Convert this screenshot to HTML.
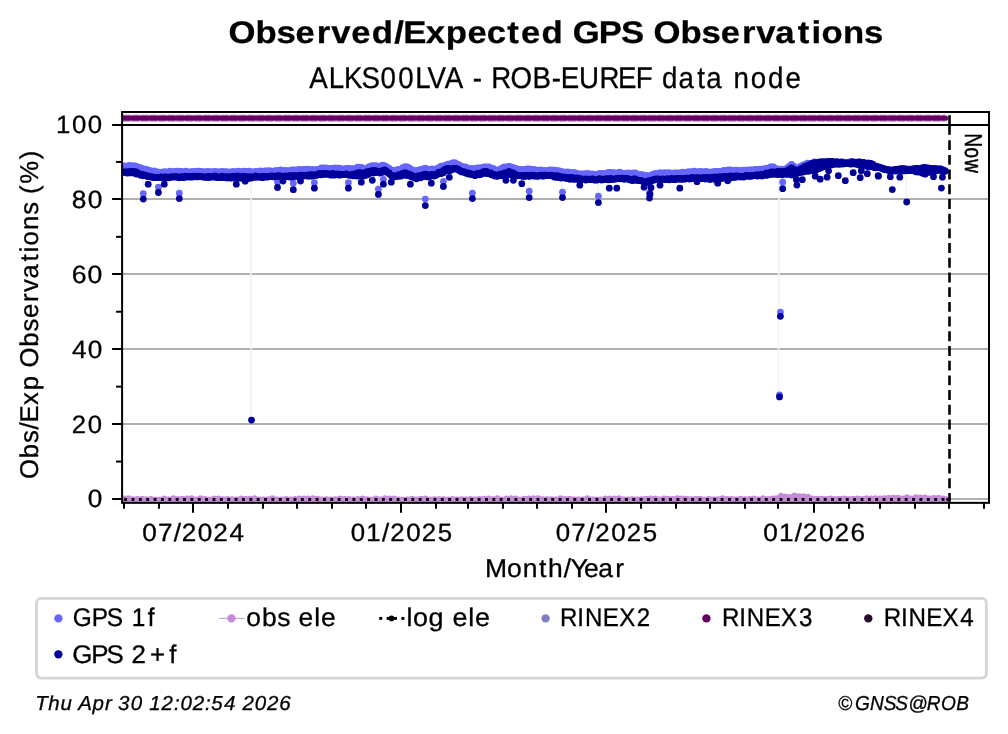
<!DOCTYPE html>
<html><head><meta charset="utf-8"><title>Observed/Expected GPS Observations</title>
<style>
html,body{margin:0;padding:0;background:#fff;width:1008px;height:734px;overflow:hidden}
svg{display:block;will-change:transform}
text{font-family:"Liberation Sans",sans-serif;font-kerning:none;text-rendering:geometricPrecision;stroke:#000;stroke-width:0.3px}
</style></head><body>
<svg width="1008" height="734" viewBox="0 0 1008 734">
<rect width="1008" height="734" fill="#fff"/>
<line x1="122.1" x2="989.0" y1="499.00" y2="499.00" stroke="#b0b0b0" stroke-width="1.8"/>
<line x1="122.1" x2="989.0" y1="424.00" y2="424.00" stroke="#b0b0b0" stroke-width="1.8"/>
<line x1="122.1" x2="989.0" y1="349.00" y2="349.00" stroke="#b0b0b0" stroke-width="1.8"/>
<line x1="122.1" x2="989.0" y1="274.00" y2="274.00" stroke="#b0b0b0" stroke-width="1.8"/>
<line x1="122.1" x2="989.0" y1="199.00" y2="199.00" stroke="#b0b0b0" stroke-width="1.8"/>
<line x1="122.1" x2="989.0" y1="125.00" y2="125.00" stroke="#b0b0b0" stroke-width="1.8"/>
<defs><clipPath id="ax"><rect x="122.10" y="112.00" width="866.90" height="390.85"/></clipPath></defs>
<g clip-path="url(#ax)">
<line x1="251.0" x2="251.0" y1="180" y2="420" stroke="#f1f1fc" stroke-width="1.6"/>
<line x1="778.8" x2="778.8" y1="178" y2="313" stroke="#f1f1fc" stroke-width="1.6"/>
<line x1="778.5" x2="778.5" y1="313" y2="397" stroke="#f1f1fc" stroke-width="1.6"/>
<line x1="143.0" x2="143.0" y1="178" y2="196" stroke="#f1f1fc" stroke-width="1.6"/>
<line x1="179.0" x2="179.0" y1="178" y2="196" stroke="#f1f1fc" stroke-width="1.6"/>
<line x1="378.0" x2="378.0" y1="176" y2="192" stroke="#f1f1fc" stroke-width="1.6"/>
<line x1="425.0" x2="425.0" y1="178" y2="202" stroke="#f1f1fc" stroke-width="1.6"/>
<line x1="472.0" x2="472.0" y1="178" y2="196" stroke="#f1f1fc" stroke-width="1.6"/>
<line x1="529.0" x2="529.0" y1="178" y2="194" stroke="#f1f1fc" stroke-width="1.6"/>
<line x1="562.0" x2="562.0" y1="180" y2="195" stroke="#f1f1fc" stroke-width="1.6"/>
<line x1="598.0" x2="598.0" y1="182" y2="199" stroke="#f1f1fc" stroke-width="1.6"/>
<line x1="892" x2="892" y1="175" y2="189" stroke="#f1f1fc" stroke-width="1.6"/>
<line x1="906.5" x2="906.5" y1="175" y2="202" stroke="#f1f1fc" stroke-width="1.6"/>
<polygon points="122,164.30 133,163.30 145,167.30 157,169.70 175,169.30 195,169.30 215,169.30 230,169.30 250,169.30 270,168.30 290,167.80 310,167.30 315,167.80 325,165.30 335,165.80 345,166.30 355,166.80 358,164.30 365,167.30 371,162.80 380,163.80 385,162.80 393,168.30 400,167.30 406,164.30 415,169.30 425,166.30 435,167.30 445,162.30 455,160.80 465,165.30 475,166.80 485,163.80 497,167.80 509,163.30 520,167.30 535,167.30 550,167.80 565,169.30 580,171.20 595,171.70 605,170.70 620,170.20 635,171.20 648,173.20 654,171.70 660,170.70 675,170.70 690,169.30 700,169.70 715,169.30 730,167.80 745,167.80 760,166.80 773,164.30 780,167.20 786,167.20 792,162.20 798,166.90 803,162.20 813,160.10 830,159.20 840,160.20 855,159.70 870,161.20 880,165.20 890,168.20 900,166.70 910,167.20 925,165.70 940,166.70 946,168.70 946,171.25 940,169.75 925,170.75 910,170.00 900,169.75 890,170.50 880,167.75 870,165.40 855,162.80 840,163.05 830,163.30 813,166.80 803,169.70 798,171.90 792,171.35 786,173.00 780,173.00 773,172.80 760,175.30 745,176.30 730,176.80 715,178.50 700,178.25 690,178.25 675,179.00 660,179.25 654,179.65 648,182.00 635,179.75 620,178.50 605,179.25 595,179.50 580,179.25 565,177.75 550,175.55 535,175.55 520,176.05 509,172.85 497,176.15 485,171.85 475,175.30 465,172.80 455,168.35 445,170.35 435,175.30 425,175.55 415,177.75 406,173.55 400,175.80 393,176.30 385,170.85 380,172.10 371,171.60 365,174.30 358,173.80 355,175.30 345,174.55 335,174.30 325,174.05 315,175.05 310,175.30 290,176.30 270,176.55 250,177.30 230,177.05 215,176.80 195,176.90 175,177.05 157,177.75 145,175.55 133,172.35 122,172.55" fill="#6666ff"/>
<g fill="#6666ff"><circle cx="122.5" cy="166.4" r="3.4"/><circle cx="124.8" cy="165.9" r="3.4"/><circle cx="127.0" cy="166.4" r="3.4"/><circle cx="129.3" cy="165.4" r="3.4"/><circle cx="131.5" cy="165.8" r="3.4"/><circle cx="133.8" cy="165.7" r="3.4"/><circle cx="136.1" cy="166.1" r="3.4"/><circle cx="138.3" cy="167.4" r="3.4"/><circle cx="140.6" cy="167.6" r="3.4"/><circle cx="142.8" cy="168.8" r="3.4"/><circle cx="145.1" cy="169.1" r="3.4"/><circle cx="147.4" cy="169.6" r="3.4"/><circle cx="149.6" cy="170.5" r="3.4"/><circle cx="151.9" cy="171.5" r="3.4"/><circle cx="154.1" cy="171.0" r="3.4"/><circle cx="156.4" cy="171.6" r="3.4"/><circle cx="158.7" cy="172.2" r="3.4"/><circle cx="160.9" cy="172.5" r="3.4"/><circle cx="163.2" cy="172.0" r="3.4"/><circle cx="165.4" cy="171.7" r="3.4"/><circle cx="167.7" cy="172.4" r="3.4"/><circle cx="170.0" cy="171.2" r="3.4"/><circle cx="172.2" cy="172.2" r="3.4"/><circle cx="174.5" cy="171.4" r="3.4"/><circle cx="176.7" cy="171.2" r="3.4"/><circle cx="179.0" cy="171.2" r="3.4"/><circle cx="181.3" cy="171.4" r="3.4"/><circle cx="183.5" cy="172.1" r="3.4"/><circle cx="185.8" cy="171.2" r="3.4"/><circle cx="188.0" cy="171.8" r="3.4"/><circle cx="190.3" cy="171.8" r="3.4"/><circle cx="192.6" cy="171.5" r="3.4"/><circle cx="194.8" cy="171.7" r="3.4"/><circle cx="197.1" cy="171.1" r="3.4"/><circle cx="199.3" cy="171.1" r="3.4"/><circle cx="201.6" cy="171.3" r="3.4"/><circle cx="203.9" cy="171.9" r="3.4"/><circle cx="206.1" cy="171.6" r="3.4"/><circle cx="208.4" cy="171.4" r="3.4"/><circle cx="210.6" cy="171.8" r="3.4"/><circle cx="212.9" cy="171.6" r="3.4"/><circle cx="215.2" cy="171.4" r="3.4"/><circle cx="217.4" cy="172.0" r="3.4"/><circle cx="219.7" cy="171.9" r="3.4"/><circle cx="221.9" cy="171.3" r="3.4"/><circle cx="224.2" cy="171.7" r="3.4"/><circle cx="226.5" cy="171.7" r="3.4"/><circle cx="228.7" cy="172.1" r="3.4"/><circle cx="231.0" cy="171.9" r="3.4"/><circle cx="233.2" cy="171.4" r="3.4"/><circle cx="235.5" cy="172.3" r="3.4"/><circle cx="237.8" cy="171.2" r="3.4"/><circle cx="240.0" cy="171.5" r="3.4"/><circle cx="242.3" cy="172.0" r="3.4"/><circle cx="244.5" cy="171.2" r="3.4"/><circle cx="246.8" cy="171.6" r="3.4"/><circle cx="249.1" cy="171.1" r="3.4"/><circle cx="251.3" cy="171.8" r="3.4"/><circle cx="253.6" cy="171.8" r="3.4"/><circle cx="255.8" cy="171.5" r="3.4"/><circle cx="258.1" cy="171.7" r="3.4"/><circle cx="260.4" cy="170.9" r="3.4"/><circle cx="262.6" cy="171.3" r="3.4"/><circle cx="264.9" cy="171.0" r="3.4"/><circle cx="267.1" cy="170.9" r="3.4"/><circle cx="269.4" cy="170.6" r="3.4"/><circle cx="271.7" cy="171.1" r="3.4"/><circle cx="273.9" cy="171.1" r="3.4"/><circle cx="276.2" cy="170.5" r="3.4"/><circle cx="278.4" cy="170.7" r="3.4"/><circle cx="280.7" cy="169.8" r="3.4"/><circle cx="283.0" cy="170.6" r="3.4"/><circle cx="285.2" cy="170.5" r="3.4"/><circle cx="287.5" cy="170.9" r="3.4"/><circle cx="289.7" cy="170.6" r="3.4"/><circle cx="292.0" cy="169.8" r="3.4"/><circle cx="294.3" cy="169.9" r="3.4"/><circle cx="296.5" cy="170.2" r="3.4"/><circle cx="298.8" cy="169.3" r="3.4"/><circle cx="301.0" cy="169.8" r="3.4"/><circle cx="303.3" cy="169.4" r="3.4"/><circle cx="305.6" cy="169.3" r="3.4"/><circle cx="307.8" cy="169.1" r="3.4"/><circle cx="310.1" cy="170.0" r="3.4"/><circle cx="312.3" cy="169.4" r="3.4"/><circle cx="314.6" cy="169.8" r="3.4"/><circle cx="316.9" cy="169.5" r="3.4"/><circle cx="319.1" cy="169.6" r="3.4"/><circle cx="321.4" cy="168.0" r="3.4"/><circle cx="323.6" cy="167.9" r="3.4"/><circle cx="325.9" cy="167.8" r="3.4"/><circle cx="328.2" cy="168.3" r="3.4"/><circle cx="330.4" cy="168.3" r="3.4"/><circle cx="332.7" cy="168.5" r="3.4"/><circle cx="334.9" cy="167.9" r="3.4"/><circle cx="337.2" cy="168.1" r="3.4"/><circle cx="339.5" cy="168.2" r="3.4"/><circle cx="341.7" cy="169.0" r="3.4"/><circle cx="344.0" cy="169.2" r="3.4"/><circle cx="346.2" cy="168.3" r="3.4"/><circle cx="348.5" cy="168.4" r="3.4"/><circle cx="350.8" cy="168.6" r="3.4"/><circle cx="353.0" cy="168.7" r="3.4"/><circle cx="355.3" cy="168.9" r="3.4"/><circle cx="357.5" cy="167.1" r="3.4"/><circle cx="359.8" cy="167.1" r="3.4"/><circle cx="362.1" cy="167.7" r="3.4"/><circle cx="364.3" cy="169.3" r="3.4"/><circle cx="366.6" cy="168.3" r="3.4"/><circle cx="368.8" cy="166.9" r="3.4"/><circle cx="371.1" cy="165.8" r="3.4"/><circle cx="373.4" cy="165.7" r="3.4"/><circle cx="375.6" cy="165.7" r="3.4"/><circle cx="377.9" cy="166.1" r="3.4"/><circle cx="380.1" cy="166.4" r="3.4"/><circle cx="382.4" cy="165.1" r="3.4"/><circle cx="384.7" cy="165.7" r="3.4"/><circle cx="386.9" cy="166.8" r="3.4"/><circle cx="389.2" cy="168.5" r="3.4"/><circle cx="391.4" cy="170.0" r="3.4"/><circle cx="393.7" cy="170.4" r="3.4"/><circle cx="396.0" cy="170.1" r="3.4"/><circle cx="398.2" cy="169.4" r="3.4"/><circle cx="400.5" cy="169.6" r="3.4"/><circle cx="402.7" cy="167.7" r="3.4"/><circle cx="405.0" cy="166.6" r="3.4"/><circle cx="407.3" cy="167.0" r="3.4"/><circle cx="409.5" cy="168.2" r="3.4"/><circle cx="411.8" cy="169.7" r="3.4"/><circle cx="414.0" cy="170.5" r="3.4"/><circle cx="416.3" cy="170.6" r="3.4"/><circle cx="418.6" cy="170.1" r="3.4"/><circle cx="420.8" cy="169.4" r="3.4"/><circle cx="423.1" cy="169.0" r="3.4"/><circle cx="425.3" cy="168.1" r="3.4"/><circle cx="427.6" cy="169.4" r="3.4"/><circle cx="429.9" cy="169.3" r="3.4"/><circle cx="432.1" cy="168.9" r="3.4"/><circle cx="434.4" cy="169.3" r="3.4"/><circle cx="436.6" cy="168.6" r="3.4"/><circle cx="438.9" cy="167.5" r="3.4"/><circle cx="441.2" cy="166.1" r="3.4"/><circle cx="443.4" cy="165.9" r="3.4"/><circle cx="445.7" cy="165.2" r="3.4"/><circle cx="447.9" cy="164.2" r="3.4"/><circle cx="450.2" cy="163.8" r="3.4"/><circle cx="452.5" cy="163.0" r="3.4"/><circle cx="454.7" cy="162.7" r="3.4"/><circle cx="457.0" cy="163.8" r="3.4"/><circle cx="459.2" cy="164.8" r="3.4"/><circle cx="461.5" cy="166.5" r="3.4"/><circle cx="463.8" cy="166.7" r="3.4"/><circle cx="466.0" cy="167.2" r="3.4"/><circle cx="468.3" cy="168.7" r="3.4"/><circle cx="470.5" cy="168.5" r="3.4"/><circle cx="472.8" cy="168.4" r="3.4"/><circle cx="475.1" cy="169.2" r="3.4"/><circle cx="477.3" cy="167.8" r="3.4"/><circle cx="479.6" cy="167.8" r="3.4"/><circle cx="481.8" cy="167.7" r="3.4"/><circle cx="484.1" cy="166.9" r="3.4"/><circle cx="486.4" cy="166.9" r="3.4"/><circle cx="488.6" cy="167.0" r="3.4"/><circle cx="490.9" cy="167.9" r="3.4"/><circle cx="493.1" cy="168.4" r="3.4"/><circle cx="495.4" cy="170.0" r="3.4"/><circle cx="497.7" cy="169.9" r="3.4"/><circle cx="499.9" cy="169.4" r="3.4"/><circle cx="502.2" cy="168.0" r="3.4"/><circle cx="504.4" cy="167.0" r="3.4"/><circle cx="506.7" cy="166.9" r="3.4"/><circle cx="509.0" cy="166.3" r="3.4"/><circle cx="511.2" cy="166.9" r="3.4"/><circle cx="513.5" cy="167.7" r="3.4"/><circle cx="515.7" cy="168.5" r="3.4"/><circle cx="518.0" cy="169.2" r="3.4"/><circle cx="520.3" cy="169.3" r="3.4"/><circle cx="522.5" cy="169.7" r="3.4"/><circle cx="524.8" cy="169.5" r="3.4"/><circle cx="527.0" cy="169.0" r="3.4"/><circle cx="529.3" cy="169.0" r="3.4"/><circle cx="531.6" cy="169.4" r="3.4"/><circle cx="533.8" cy="169.3" r="3.4"/><circle cx="536.1" cy="169.9" r="3.4"/><circle cx="538.3" cy="170.4" r="3.4"/><circle cx="540.6" cy="169.8" r="3.4"/><circle cx="542.9" cy="170.5" r="3.4"/><circle cx="545.1" cy="170.6" r="3.4"/><circle cx="547.4" cy="170.7" r="3.4"/><circle cx="549.6" cy="170.0" r="3.4"/><circle cx="551.9" cy="170.0" r="3.4"/><circle cx="554.2" cy="170.2" r="3.4"/><circle cx="556.4" cy="170.4" r="3.4"/><circle cx="558.7" cy="170.6" r="3.4"/><circle cx="560.9" cy="171.4" r="3.4"/><circle cx="563.2" cy="172.0" r="3.4"/><circle cx="565.5" cy="172.2" r="3.4"/><circle cx="567.7" cy="172.0" r="3.4"/><circle cx="570.0" cy="172.5" r="3.4"/><circle cx="572.2" cy="173.0" r="3.4"/><circle cx="574.5" cy="172.3" r="3.4"/><circle cx="576.8" cy="173.3" r="3.4"/><circle cx="579.0" cy="174.0" r="3.4"/><circle cx="581.3" cy="174.0" r="3.4"/><circle cx="583.5" cy="174.0" r="3.4"/><circle cx="585.8" cy="173.7" r="3.4"/><circle cx="588.1" cy="173.4" r="3.4"/><circle cx="590.3" cy="174.3" r="3.4"/><circle cx="592.6" cy="173.8" r="3.4"/><circle cx="594.8" cy="174.4" r="3.4"/><circle cx="597.1" cy="174.5" r="3.4"/><circle cx="599.4" cy="173.5" r="3.4"/><circle cx="601.6" cy="173.3" r="3.4"/><circle cx="603.9" cy="173.7" r="3.4"/><circle cx="606.1" cy="173.3" r="3.4"/><circle cx="608.4" cy="172.5" r="3.4"/><circle cx="610.7" cy="172.4" r="3.4"/><circle cx="612.9" cy="172.3" r="3.4"/><circle cx="615.2" cy="173.2" r="3.4"/><circle cx="617.4" cy="173.0" r="3.4"/><circle cx="619.7" cy="172.1" r="3.4"/><circle cx="622.0" cy="173.1" r="3.4"/><circle cx="624.2" cy="173.5" r="3.4"/><circle cx="626.5" cy="173.2" r="3.4"/><circle cx="628.7" cy="172.9" r="3.4"/><circle cx="631.0" cy="173.3" r="3.4"/><circle cx="633.3" cy="173.0" r="3.4"/><circle cx="635.5" cy="173.0" r="3.4"/><circle cx="637.8" cy="174.6" r="3.4"/><circle cx="640.0" cy="174.5" r="3.4"/><circle cx="642.3" cy="174.7" r="3.4"/><circle cx="644.6" cy="175.6" r="3.4"/><circle cx="646.8" cy="175.3" r="3.4"/><circle cx="649.1" cy="175.8" r="3.4"/><circle cx="651.3" cy="175.1" r="3.4"/><circle cx="653.6" cy="173.8" r="3.4"/><circle cx="655.9" cy="173.4" r="3.4"/><circle cx="658.1" cy="173.1" r="3.4"/><circle cx="660.4" cy="172.7" r="3.4"/><circle cx="662.6" cy="173.2" r="3.4"/><circle cx="664.9" cy="172.7" r="3.4"/><circle cx="667.2" cy="172.9" r="3.4"/><circle cx="669.4" cy="172.6" r="3.4"/><circle cx="671.7" cy="173.6" r="3.4"/><circle cx="673.9" cy="172.9" r="3.4"/><circle cx="676.2" cy="172.9" r="3.4"/><circle cx="678.5" cy="172.8" r="3.4"/><circle cx="680.7" cy="173.0" r="3.4"/><circle cx="683.0" cy="172.2" r="3.4"/><circle cx="685.2" cy="172.6" r="3.4"/><circle cx="687.5" cy="171.9" r="3.4"/><circle cx="689.8" cy="171.7" r="3.4"/><circle cx="692.0" cy="171.8" r="3.4"/><circle cx="694.3" cy="171.2" r="3.4"/><circle cx="696.5" cy="171.8" r="3.4"/><circle cx="698.8" cy="171.6" r="3.4"/><circle cx="701.1" cy="171.4" r="3.4"/><circle cx="703.3" cy="172.4" r="3.4"/><circle cx="705.6" cy="171.5" r="3.4"/><circle cx="707.8" cy="171.8" r="3.4"/><circle cx="710.1" cy="172.1" r="3.4"/><circle cx="712.4" cy="171.8" r="3.4"/><circle cx="714.6" cy="171.4" r="3.4"/><circle cx="716.9" cy="171.5" r="3.4"/><circle cx="719.1" cy="171.3" r="3.4"/><circle cx="721.4" cy="171.4" r="3.4"/><circle cx="723.7" cy="170.3" r="3.4"/><circle cx="725.9" cy="170.6" r="3.4"/><circle cx="728.2" cy="170.0" r="3.4"/><circle cx="730.4" cy="169.9" r="3.4"/><circle cx="732.7" cy="170.5" r="3.4"/><circle cx="735.0" cy="170.2" r="3.4"/><circle cx="737.2" cy="170.2" r="3.4"/><circle cx="739.5" cy="170.5" r="3.4"/><circle cx="741.7" cy="170.7" r="3.4"/><circle cx="744.0" cy="170.1" r="3.4"/><circle cx="746.3" cy="170.2" r="3.4"/><circle cx="748.5" cy="169.9" r="3.4"/><circle cx="750.8" cy="169.8" r="3.4"/><circle cx="753.0" cy="169.9" r="3.4"/><circle cx="755.3" cy="169.4" r="3.4"/><circle cx="757.6" cy="169.4" r="3.4"/><circle cx="759.8" cy="169.1" r="3.4"/><circle cx="762.1" cy="169.3" r="3.4"/><circle cx="764.3" cy="168.6" r="3.4"/><circle cx="766.6" cy="168.4" r="3.4"/><circle cx="768.9" cy="168.0" r="3.4"/><circle cx="771.1" cy="166.7" r="3.4"/><circle cx="773.4" cy="166.9" r="3.4"/><circle cx="775.6" cy="168.3" r="3.4"/><circle cx="777.9" cy="169.1" r="3.4"/><circle cx="780.2" cy="169.1" r="3.4"/><circle cx="782.4" cy="169.1" r="3.4"/><circle cx="784.7" cy="169.5" r="3.4"/><circle cx="786.9" cy="168.2" r="3.4"/><circle cx="789.2" cy="166.5" r="3.4"/><circle cx="791.5" cy="164.4" r="3.4"/><circle cx="793.7" cy="166.1" r="3.4"/><circle cx="796.0" cy="168.0" r="3.4"/><circle cx="798.2" cy="169.5" r="3.4"/><circle cx="800.5" cy="166.5" r="3.4"/><circle cx="802.8" cy="165.1" r="3.4"/><circle cx="805.0" cy="164.3" r="3.4"/><circle cx="807.3" cy="163.2" r="3.4"/><circle cx="809.5" cy="163.7" r="3.4"/><circle cx="811.8" cy="163.3" r="3.4"/><circle cx="814.1" cy="162.0" r="3.4"/><circle cx="816.3" cy="162.9" r="3.4"/><circle cx="818.6" cy="162.0" r="3.4"/><circle cx="820.8" cy="162.0" r="3.4"/><circle cx="823.1" cy="162.6" r="3.4"/><circle cx="825.4" cy="162.2" r="3.4"/><circle cx="827.6" cy="161.2" r="3.4"/><circle cx="829.9" cy="161.5" r="3.4"/><circle cx="832.1" cy="161.8" r="3.4"/><circle cx="834.4" cy="161.8" r="3.4"/><circle cx="836.7" cy="161.8" r="3.4"/><circle cx="838.9" cy="162.2" r="3.4"/><circle cx="841.2" cy="162.8" r="3.4"/><circle cx="843.4" cy="161.8" r="3.4"/><circle cx="845.7" cy="162.4" r="3.4"/><circle cx="848.0" cy="162.2" r="3.4"/><circle cx="850.2" cy="161.6" r="3.4"/><circle cx="852.5" cy="161.9" r="3.4"/><circle cx="854.7" cy="162.2" r="3.4"/><circle cx="857.0" cy="162.3" r="3.4"/><circle cx="859.3" cy="161.9" r="3.4"/><circle cx="861.5" cy="163.3" r="3.4"/><circle cx="863.8" cy="163.3" r="3.4"/><circle cx="866.0" cy="163.8" r="3.4"/><circle cx="868.3" cy="162.9" r="3.4"/><circle cx="870.6" cy="163.5" r="3.4"/><circle cx="872.8" cy="164.1" r="3.4"/><circle cx="875.1" cy="165.9" r="3.4"/><circle cx="877.3" cy="166.2" r="3.4"/><circle cx="879.6" cy="166.9" r="3.4"/><circle cx="881.9" cy="168.0" r="3.4"/><circle cx="884.1" cy="169.3" r="3.4"/><circle cx="886.4" cy="169.9" r="3.4"/><circle cx="888.6" cy="169.8" r="3.4"/><circle cx="890.9" cy="170.0" r="3.4"/><circle cx="893.2" cy="170.6" r="3.4"/><circle cx="895.4" cy="169.8" r="3.4"/><circle cx="897.7" cy="169.7" r="3.4"/><circle cx="899.9" cy="168.5" r="3.4"/><circle cx="902.2" cy="168.6" r="3.4"/><circle cx="904.5" cy="169.5" r="3.4"/><circle cx="906.7" cy="169.3" r="3.4"/><circle cx="909.0" cy="168.9" r="3.4"/><circle cx="911.2" cy="170.0" r="3.4"/><circle cx="913.5" cy="169.4" r="3.4"/><circle cx="915.8" cy="169.4" r="3.4"/><circle cx="918.0" cy="168.2" r="3.4"/><circle cx="920.3" cy="169.0" r="3.4"/><circle cx="922.5" cy="167.7" r="3.4"/><circle cx="924.8" cy="168.5" r="3.4"/><circle cx="927.1" cy="168.1" r="3.4"/><circle cx="929.3" cy="168.1" r="3.4"/><circle cx="931.6" cy="168.6" r="3.4"/><circle cx="933.8" cy="169.2" r="3.4"/><circle cx="936.1" cy="168.5" r="3.4"/><circle cx="938.4" cy="168.5" r="3.4"/><circle cx="940.6" cy="169.3" r="3.4"/><circle cx="942.9" cy="169.7" r="3.4"/><circle cx="945.1" cy="170.3" r="3.4"/></g>
<circle cx="143.3" cy="193.7" r="3.4" fill="#6666ff"/>
<circle cx="158.4" cy="187.2" r="3.4" fill="#6666ff"/>
<circle cx="179.3" cy="193.2" r="3.4" fill="#6666ff"/>
<circle cx="277.5" cy="182" r="3.4" fill="#6666ff"/>
<circle cx="293.3" cy="183.2" r="3.4" fill="#6666ff"/>
<circle cx="314.4" cy="182.7" r="3.4" fill="#6666ff"/>
<circle cx="348.4" cy="182.7" r="3.4" fill="#6666ff"/>
<circle cx="378.4" cy="189.2" r="3.4" fill="#6666ff"/>
<circle cx="383.4" cy="179.3" r="3.4" fill="#6666ff"/>
<circle cx="425.3" cy="199.1" r="3.4" fill="#6666ff"/>
<circle cx="443.4" cy="181.3" r="3.4" fill="#6666ff"/>
<circle cx="472.4" cy="193.2" r="3.4" fill="#6666ff"/>
<circle cx="529.2" cy="191.2" r="3.4" fill="#6666ff"/>
<circle cx="562.5" cy="192.2" r="3.4" fill="#6666ff"/>
<circle cx="598.4" cy="196.1" r="3.4" fill="#6666ff"/>
<circle cx="649.5" cy="193" r="3.4" fill="#6666ff"/>
<circle cx="782.7" cy="182.2" r="3.4" fill="#6666ff"/>
<circle cx="780.4" cy="312.2" r="3.4" fill="#6666ff"/>
<circle cx="779.5" cy="394.9" r="3.4" fill="#6666ff"/>
<polygon points="122,170.20 133,169.30 145,173.20 157,175.20 175,174.70 195,174.70 215,174.70 230,175.20 250,175.70 270,174.20 290,173.70 310,172.70 315,172.20 325,171.20 335,171.70 345,172.20 355,172.20 358,169.70 365,170.70 371,168.30 380,169.30 385,167.80 393,173.70 400,172.70 406,170.20 415,174.70 425,172.20 435,172.70 445,166.80 455,165.80 465,170.70 475,172.70 485,168.80 497,173.40 509,169.30 520,173.70 535,173.20 550,173.20 565,174.70 580,176.70 595,177.20 605,176.70 620,176.20 635,177.70 648,179.20 654,177.20 660,176.70 675,176.70 690,175.70 700,175.70 715,175.20 730,173.70 745,174.20 760,172.20 773,169.70 780,169.30 786,169.30 792,165.60 798,168.70 803,165.30 813,160.50 830,159.50 840,160.20 855,159.70 870,161.20 880,165.20 890,168.20 900,166.70 910,167.20 925,165.70 940,166.70 946,168.70 946,173.80 940,172.80 925,175.80 910,172.80 900,172.80 890,172.80 880,170.30 870,169.60 855,165.90 840,165.90 830,167.10 813,173.10 803,174.10 798,175.10 792,177.10 786,176.70 780,176.70 773,175.90 760,178.40 745,178.40 730,179.90 715,181.80 700,180.80 690,180.80 675,181.30 660,181.80 654,182.10 648,184.80 635,181.80 620,180.80 605,181.80 595,181.80 580,181.80 565,180.80 550,177.90 535,177.90 520,178.40 509,176.40 497,178.90 485,174.90 475,177.90 465,174.90 455,170.90 445,173.90 435,177.90 425,178.90 415,180.80 406,176.90 400,178.90 393,178.90 385,173.90 380,174.90 371,174.90 365,177.90 358,177.90 355,178.40 345,176.90 335,176.90 325,176.90 315,177.90 310,177.90 290,178.90 270,178.90 250,178.90 230,178.90 215,178.90 195,179.10 175,179.40 157,180.30 145,177.90 133,175.40 122,174.90" fill="#000099"/>
<g fill="#000099"><circle cx="122.5" cy="172.1" r="3.4"/><circle cx="122.5" cy="172.0" r="3.4"/><circle cx="124.8" cy="171.9" r="3.4"/><circle cx="124.8" cy="172.4" r="3.4"/><circle cx="127.0" cy="171.9" r="3.4"/><circle cx="127.0" cy="173.1" r="3.4"/><circle cx="129.3" cy="171.7" r="3.4"/><circle cx="129.3" cy="172.9" r="3.4"/><circle cx="131.5" cy="171.4" r="3.4"/><circle cx="131.5" cy="172.8" r="3.4"/><circle cx="133.8" cy="171.3" r="3.4"/><circle cx="133.8" cy="172.9" r="3.4"/><circle cx="136.1" cy="172.0" r="3.4"/><circle cx="136.1" cy="174.0" r="3.4"/><circle cx="138.3" cy="173.4" r="3.4"/><circle cx="138.3" cy="173.8" r="3.4"/><circle cx="140.6" cy="174.1" r="3.4"/><circle cx="140.6" cy="175.2" r="3.4"/><circle cx="142.8" cy="174.3" r="3.4"/><circle cx="142.8" cy="175.5" r="3.4"/><circle cx="145.1" cy="175.5" r="3.4"/><circle cx="145.1" cy="175.6" r="3.4"/><circle cx="147.4" cy="176.4" r="3.4"/><circle cx="147.4" cy="175.9" r="3.4"/><circle cx="149.6" cy="176.3" r="3.4"/><circle cx="149.6" cy="176.7" r="3.4"/><circle cx="151.9" cy="177.3" r="3.4"/><circle cx="151.9" cy="176.7" r="3.4"/><circle cx="154.1" cy="177.5" r="3.4"/><circle cx="154.1" cy="177.6" r="3.4"/><circle cx="156.4" cy="177.6" r="3.4"/><circle cx="156.4" cy="177.7" r="3.4"/><circle cx="158.7" cy="177.3" r="3.4"/><circle cx="158.7" cy="177.3" r="3.4"/><circle cx="160.9" cy="177.0" r="3.4"/><circle cx="160.9" cy="177.2" r="3.4"/><circle cx="163.2" cy="177.7" r="3.4"/><circle cx="163.2" cy="177.3" r="3.4"/><circle cx="165.4" cy="176.9" r="3.4"/><circle cx="165.4" cy="177.0" r="3.4"/><circle cx="167.7" cy="177.7" r="3.4"/><circle cx="167.7" cy="177.9" r="3.4"/><circle cx="170.0" cy="177.4" r="3.4"/><circle cx="170.0" cy="177.0" r="3.4"/><circle cx="172.2" cy="176.8" r="3.4"/><circle cx="172.2" cy="176.9" r="3.4"/><circle cx="174.5" cy="177.0" r="3.4"/><circle cx="174.5" cy="176.6" r="3.4"/><circle cx="176.7" cy="177.0" r="3.4"/><circle cx="176.7" cy="176.7" r="3.4"/><circle cx="179.0" cy="177.7" r="3.4"/><circle cx="179.0" cy="177.6" r="3.4"/><circle cx="181.3" cy="177.1" r="3.4"/><circle cx="181.3" cy="176.6" r="3.4"/><circle cx="183.5" cy="177.7" r="3.4"/><circle cx="183.5" cy="176.7" r="3.4"/><circle cx="185.8" cy="176.9" r="3.4"/><circle cx="185.8" cy="176.2" r="3.4"/><circle cx="188.0" cy="176.9" r="3.4"/><circle cx="188.0" cy="176.8" r="3.4"/><circle cx="190.3" cy="177.1" r="3.4"/><circle cx="190.3" cy="176.4" r="3.4"/><circle cx="192.6" cy="177.1" r="3.4"/><circle cx="192.6" cy="176.1" r="3.4"/><circle cx="194.8" cy="176.7" r="3.4"/><circle cx="194.8" cy="176.2" r="3.4"/><circle cx="197.1" cy="176.9" r="3.4"/><circle cx="197.1" cy="176.1" r="3.4"/><circle cx="199.3" cy="176.4" r="3.4"/><circle cx="199.3" cy="176.5" r="3.4"/><circle cx="201.6" cy="176.7" r="3.4"/><circle cx="201.6" cy="176.8" r="3.4"/><circle cx="203.9" cy="177.1" r="3.4"/><circle cx="203.9" cy="177.0" r="3.4"/><circle cx="206.1" cy="177.3" r="3.4"/><circle cx="206.1" cy="176.9" r="3.4"/><circle cx="208.4" cy="177.5" r="3.4"/><circle cx="208.4" cy="176.5" r="3.4"/><circle cx="210.6" cy="176.8" r="3.4"/><circle cx="210.6" cy="177.2" r="3.4"/><circle cx="212.9" cy="176.6" r="3.4"/><circle cx="212.9" cy="176.9" r="3.4"/><circle cx="215.2" cy="177.2" r="3.4"/><circle cx="215.2" cy="176.0" r="3.4"/><circle cx="217.4" cy="177.6" r="3.4"/><circle cx="217.4" cy="177.1" r="3.4"/><circle cx="219.7" cy="177.4" r="3.4"/><circle cx="219.7" cy="176.9" r="3.4"/><circle cx="221.9" cy="177.7" r="3.4"/><circle cx="221.9" cy="176.1" r="3.4"/><circle cx="224.2" cy="177.4" r="3.4"/><circle cx="224.2" cy="176.6" r="3.4"/><circle cx="226.5" cy="177.9" r="3.4"/><circle cx="226.5" cy="176.9" r="3.4"/><circle cx="228.7" cy="177.9" r="3.4"/><circle cx="228.7" cy="176.7" r="3.4"/><circle cx="231.0" cy="178.1" r="3.4"/><circle cx="231.0" cy="176.8" r="3.4"/><circle cx="233.2" cy="177.9" r="3.4"/><circle cx="233.2" cy="176.2" r="3.4"/><circle cx="235.5" cy="177.1" r="3.4"/><circle cx="235.5" cy="176.1" r="3.4"/><circle cx="237.8" cy="177.6" r="3.4"/><circle cx="237.8" cy="176.0" r="3.4"/><circle cx="240.0" cy="178.2" r="3.4"/><circle cx="240.0" cy="176.6" r="3.4"/><circle cx="242.3" cy="178.0" r="3.4"/><circle cx="242.3" cy="176.7" r="3.4"/><circle cx="244.5" cy="178.1" r="3.4"/><circle cx="244.5" cy="176.5" r="3.4"/><circle cx="246.8" cy="177.3" r="3.4"/><circle cx="246.8" cy="176.9" r="3.4"/><circle cx="249.1" cy="178.3" r="3.4"/><circle cx="249.1" cy="176.6" r="3.4"/><circle cx="251.3" cy="178.0" r="3.4"/><circle cx="251.3" cy="176.8" r="3.4"/><circle cx="253.6" cy="177.2" r="3.4"/><circle cx="253.6" cy="176.9" r="3.4"/><circle cx="255.8" cy="177.3" r="3.4"/><circle cx="255.8" cy="176.0" r="3.4"/><circle cx="258.1" cy="177.1" r="3.4"/><circle cx="258.1" cy="176.8" r="3.4"/><circle cx="260.4" cy="176.9" r="3.4"/><circle cx="260.4" cy="176.9" r="3.4"/><circle cx="262.6" cy="177.7" r="3.4"/><circle cx="262.6" cy="176.5" r="3.4"/><circle cx="264.9" cy="176.8" r="3.4"/><circle cx="264.9" cy="176.5" r="3.4"/><circle cx="267.1" cy="177.0" r="3.4"/><circle cx="267.1" cy="176.9" r="3.4"/><circle cx="269.4" cy="176.7" r="3.4"/><circle cx="269.4" cy="176.7" r="3.4"/><circle cx="271.7" cy="176.0" r="3.4"/><circle cx="271.7" cy="176.1" r="3.4"/><circle cx="273.9" cy="176.1" r="3.4"/><circle cx="273.9" cy="176.9" r="3.4"/><circle cx="276.2" cy="176.1" r="3.4"/><circle cx="276.2" cy="176.6" r="3.4"/><circle cx="278.4" cy="175.7" r="3.4"/><circle cx="278.4" cy="176.0" r="3.4"/><circle cx="280.7" cy="176.0" r="3.4"/><circle cx="280.7" cy="176.8" r="3.4"/><circle cx="283.0" cy="176.5" r="3.4"/><circle cx="283.0" cy="176.8" r="3.4"/><circle cx="285.2" cy="175.9" r="3.4"/><circle cx="285.2" cy="176.6" r="3.4"/><circle cx="287.5" cy="176.1" r="3.4"/><circle cx="287.5" cy="176.5" r="3.4"/><circle cx="289.7" cy="175.6" r="3.4"/><circle cx="289.7" cy="177.1" r="3.4"/><circle cx="292.0" cy="175.6" r="3.4"/><circle cx="292.0" cy="177.1" r="3.4"/><circle cx="294.3" cy="176.4" r="3.4"/><circle cx="294.3" cy="175.7" r="3.4"/><circle cx="296.5" cy="175.7" r="3.4"/><circle cx="296.5" cy="176.6" r="3.4"/><circle cx="298.8" cy="176.2" r="3.4"/><circle cx="298.8" cy="176.0" r="3.4"/><circle cx="301.0" cy="175.2" r="3.4"/><circle cx="301.0" cy="175.6" r="3.4"/><circle cx="303.3" cy="176.0" r="3.4"/><circle cx="303.3" cy="175.5" r="3.4"/><circle cx="305.6" cy="175.4" r="3.4"/><circle cx="305.6" cy="175.3" r="3.4"/><circle cx="307.8" cy="175.2" r="3.4"/><circle cx="307.8" cy="176.2" r="3.4"/><circle cx="310.1" cy="174.6" r="3.4"/><circle cx="310.1" cy="176.0" r="3.4"/><circle cx="312.3" cy="174.8" r="3.4"/><circle cx="312.3" cy="176.1" r="3.4"/><circle cx="314.6" cy="174.9" r="3.4"/><circle cx="314.6" cy="175.2" r="3.4"/><circle cx="316.9" cy="174.9" r="3.4"/><circle cx="316.9" cy="175.3" r="3.4"/><circle cx="319.1" cy="173.5" r="3.4"/><circle cx="319.1" cy="174.5" r="3.4"/><circle cx="321.4" cy="173.9" r="3.4"/><circle cx="321.4" cy="174.8" r="3.4"/><circle cx="323.6" cy="173.4" r="3.4"/><circle cx="323.6" cy="174.2" r="3.4"/><circle cx="325.9" cy="173.4" r="3.4"/><circle cx="325.9" cy="174.3" r="3.4"/><circle cx="328.2" cy="174.2" r="3.4"/><circle cx="328.2" cy="173.9" r="3.4"/><circle cx="330.4" cy="174.1" r="3.4"/><circle cx="330.4" cy="175.0" r="3.4"/><circle cx="332.7" cy="173.4" r="3.4"/><circle cx="332.7" cy="175.1" r="3.4"/><circle cx="334.9" cy="174.3" r="3.4"/><circle cx="334.9" cy="175.1" r="3.4"/><circle cx="337.2" cy="173.9" r="3.4"/><circle cx="337.2" cy="174.4" r="3.4"/><circle cx="339.5" cy="174.1" r="3.4"/><circle cx="339.5" cy="175.2" r="3.4"/><circle cx="341.7" cy="174.5" r="3.4"/><circle cx="341.7" cy="174.4" r="3.4"/><circle cx="344.0" cy="174.4" r="3.4"/><circle cx="344.0" cy="174.3" r="3.4"/><circle cx="346.2" cy="174.0" r="3.4"/><circle cx="346.2" cy="174.2" r="3.4"/><circle cx="348.5" cy="175.0" r="3.4"/><circle cx="348.5" cy="174.8" r="3.4"/><circle cx="350.8" cy="175.1" r="3.4"/><circle cx="350.8" cy="175.1" r="3.4"/><circle cx="353.0" cy="174.2" r="3.4"/><circle cx="353.0" cy="175.8" r="3.4"/><circle cx="355.3" cy="173.9" r="3.4"/><circle cx="355.3" cy="175.8" r="3.4"/><circle cx="357.5" cy="173.0" r="3.4"/><circle cx="357.5" cy="176.1" r="3.4"/><circle cx="359.8" cy="172.7" r="3.4"/><circle cx="359.8" cy="175.7" r="3.4"/><circle cx="362.1" cy="173.2" r="3.4"/><circle cx="362.1" cy="176.1" r="3.4"/><circle cx="364.3" cy="173.0" r="3.4"/><circle cx="364.3" cy="175.8" r="3.4"/><circle cx="366.6" cy="171.8" r="3.4"/><circle cx="366.6" cy="175.1" r="3.4"/><circle cx="368.8" cy="171.5" r="3.4"/><circle cx="368.8" cy="174.0" r="3.4"/><circle cx="371.1" cy="170.8" r="3.4"/><circle cx="371.1" cy="172.3" r="3.4"/><circle cx="373.4" cy="170.3" r="3.4"/><circle cx="373.4" cy="173.1" r="3.4"/><circle cx="375.6" cy="170.7" r="3.4"/><circle cx="375.6" cy="172.5" r="3.4"/><circle cx="377.9" cy="171.2" r="3.4"/><circle cx="377.9" cy="172.3" r="3.4"/><circle cx="380.1" cy="171.9" r="3.4"/><circle cx="380.1" cy="173.1" r="3.4"/><circle cx="382.4" cy="170.6" r="3.4"/><circle cx="382.4" cy="172.3" r="3.4"/><circle cx="384.7" cy="170.0" r="3.4"/><circle cx="384.7" cy="171.7" r="3.4"/><circle cx="386.9" cy="171.4" r="3.4"/><circle cx="386.9" cy="172.3" r="3.4"/><circle cx="389.2" cy="172.8" r="3.4"/><circle cx="389.2" cy="173.8" r="3.4"/><circle cx="391.4" cy="175.4" r="3.4"/><circle cx="391.4" cy="175.6" r="3.4"/><circle cx="393.7" cy="175.6" r="3.4"/><circle cx="393.7" cy="177.1" r="3.4"/><circle cx="396.0" cy="176.3" r="3.4"/><circle cx="396.0" cy="176.5" r="3.4"/><circle cx="398.2" cy="174.8" r="3.4"/><circle cx="398.2" cy="176.2" r="3.4"/><circle cx="400.5" cy="174.3" r="3.4"/><circle cx="400.5" cy="176.2" r="3.4"/><circle cx="402.7" cy="173.4" r="3.4"/><circle cx="402.7" cy="175.3" r="3.4"/><circle cx="405.0" cy="172.7" r="3.4"/><circle cx="405.0" cy="175.0" r="3.4"/><circle cx="407.3" cy="173.7" r="3.4"/><circle cx="407.3" cy="175.4" r="3.4"/><circle cx="409.5" cy="174.2" r="3.4"/><circle cx="409.5" cy="176.0" r="3.4"/><circle cx="411.8" cy="175.5" r="3.4"/><circle cx="411.8" cy="176.9" r="3.4"/><circle cx="414.0" cy="176.4" r="3.4"/><circle cx="414.0" cy="177.5" r="3.4"/><circle cx="416.3" cy="176.4" r="3.4"/><circle cx="416.3" cy="178.8" r="3.4"/><circle cx="418.6" cy="175.7" r="3.4"/><circle cx="418.6" cy="177.8" r="3.4"/><circle cx="420.8" cy="175.8" r="3.4"/><circle cx="420.8" cy="177.8" r="3.4"/><circle cx="423.1" cy="174.7" r="3.4"/><circle cx="423.1" cy="176.6" r="3.4"/><circle cx="425.3" cy="174.2" r="3.4"/><circle cx="425.3" cy="176.4" r="3.4"/><circle cx="427.6" cy="174.6" r="3.4"/><circle cx="427.6" cy="176.9" r="3.4"/><circle cx="429.9" cy="175.2" r="3.4"/><circle cx="429.9" cy="176.5" r="3.4"/><circle cx="432.1" cy="174.3" r="3.4"/><circle cx="432.1" cy="175.2" r="3.4"/><circle cx="434.4" cy="175.3" r="3.4"/><circle cx="434.4" cy="176.1" r="3.4"/><circle cx="436.6" cy="174.0" r="3.4"/><circle cx="436.6" cy="175.0" r="3.4"/><circle cx="438.9" cy="172.1" r="3.4"/><circle cx="438.9" cy="173.8" r="3.4"/><circle cx="441.2" cy="172.0" r="3.4"/><circle cx="441.2" cy="173.5" r="3.4"/><circle cx="443.4" cy="170.5" r="3.4"/><circle cx="443.4" cy="172.8" r="3.4"/><circle cx="445.7" cy="168.8" r="3.4"/><circle cx="445.7" cy="170.8" r="3.4"/><circle cx="447.9" cy="168.4" r="3.4"/><circle cx="447.9" cy="170.7" r="3.4"/><circle cx="450.2" cy="168.9" r="3.4"/><circle cx="450.2" cy="170.6" r="3.4"/><circle cx="452.5" cy="168.7" r="3.4"/><circle cx="452.5" cy="169.5" r="3.4"/><circle cx="454.7" cy="168.5" r="3.4"/><circle cx="454.7" cy="168.6" r="3.4"/><circle cx="457.0" cy="169.2" r="3.4"/><circle cx="457.0" cy="168.7" r="3.4"/><circle cx="459.2" cy="170.6" r="3.4"/><circle cx="459.2" cy="169.9" r="3.4"/><circle cx="461.5" cy="171.9" r="3.4"/><circle cx="461.5" cy="171.3" r="3.4"/><circle cx="463.8" cy="172.2" r="3.4"/><circle cx="463.8" cy="171.6" r="3.4"/><circle cx="466.0" cy="172.9" r="3.4"/><circle cx="466.0" cy="173.0" r="3.4"/><circle cx="468.3" cy="174.0" r="3.4"/><circle cx="468.3" cy="173.0" r="3.4"/><circle cx="470.5" cy="173.6" r="3.4"/><circle cx="470.5" cy="174.2" r="3.4"/><circle cx="472.8" cy="174.7" r="3.4"/><circle cx="472.8" cy="174.7" r="3.4"/><circle cx="475.1" cy="174.7" r="3.4"/><circle cx="475.1" cy="175.7" r="3.4"/><circle cx="477.3" cy="173.5" r="3.4"/><circle cx="477.3" cy="174.6" r="3.4"/><circle cx="479.6" cy="173.2" r="3.4"/><circle cx="479.6" cy="174.8" r="3.4"/><circle cx="481.8" cy="172.6" r="3.4"/><circle cx="481.8" cy="174.0" r="3.4"/><circle cx="484.1" cy="171.5" r="3.4"/><circle cx="484.1" cy="172.5" r="3.4"/><circle cx="486.4" cy="171.3" r="3.4"/><circle cx="486.4" cy="173.6" r="3.4"/><circle cx="488.6" cy="172.8" r="3.4"/><circle cx="488.6" cy="173.5" r="3.4"/><circle cx="490.9" cy="172.8" r="3.4"/><circle cx="490.9" cy="174.5" r="3.4"/><circle cx="493.1" cy="174.5" r="3.4"/><circle cx="493.1" cy="175.2" r="3.4"/><circle cx="495.4" cy="174.8" r="3.4"/><circle cx="495.4" cy="176.2" r="3.4"/><circle cx="497.7" cy="176.1" r="3.4"/><circle cx="497.7" cy="176.1" r="3.4"/><circle cx="499.9" cy="174.1" r="3.4"/><circle cx="499.9" cy="175.7" r="3.4"/><circle cx="502.2" cy="173.9" r="3.4"/><circle cx="502.2" cy="175.7" r="3.4"/><circle cx="504.4" cy="172.8" r="3.4"/><circle cx="504.4" cy="175.4" r="3.4"/><circle cx="506.7" cy="172.7" r="3.4"/><circle cx="506.7" cy="174.5" r="3.4"/><circle cx="509.0" cy="171.3" r="3.4"/><circle cx="509.0" cy="174.7" r="3.4"/><circle cx="511.2" cy="172.3" r="3.4"/><circle cx="511.2" cy="174.9" r="3.4"/><circle cx="513.5" cy="173.1" r="3.4"/><circle cx="513.5" cy="174.5" r="3.4"/><circle cx="515.7" cy="174.7" r="3.4"/><circle cx="515.7" cy="175.0" r="3.4"/><circle cx="518.0" cy="175.8" r="3.4"/><circle cx="518.0" cy="175.7" r="3.4"/><circle cx="520.3" cy="175.6" r="3.4"/><circle cx="520.3" cy="175.7" r="3.4"/><circle cx="522.5" cy="175.9" r="3.4"/><circle cx="522.5" cy="176.2" r="3.4"/><circle cx="524.8" cy="176.5" r="3.4"/><circle cx="524.8" cy="175.4" r="3.4"/><circle cx="527.0" cy="175.7" r="3.4"/><circle cx="527.0" cy="175.4" r="3.4"/><circle cx="529.3" cy="176.4" r="3.4"/><circle cx="529.3" cy="175.3" r="3.4"/><circle cx="531.6" cy="175.1" r="3.4"/><circle cx="531.6" cy="175.1" r="3.4"/><circle cx="533.8" cy="175.5" r="3.4"/><circle cx="533.8" cy="176.1" r="3.4"/><circle cx="536.1" cy="176.0" r="3.4"/><circle cx="536.1" cy="175.9" r="3.4"/><circle cx="538.3" cy="176.2" r="3.4"/><circle cx="538.3" cy="176.1" r="3.4"/><circle cx="540.6" cy="175.3" r="3.4"/><circle cx="540.6" cy="175.1" r="3.4"/><circle cx="542.9" cy="176.1" r="3.4"/><circle cx="542.9" cy="175.9" r="3.4"/><circle cx="545.1" cy="174.9" r="3.4"/><circle cx="545.1" cy="175.8" r="3.4"/><circle cx="547.4" cy="175.4" r="3.4"/><circle cx="547.4" cy="175.4" r="3.4"/><circle cx="549.6" cy="175.3" r="3.4"/><circle cx="549.6" cy="175.1" r="3.4"/><circle cx="551.9" cy="175.1" r="3.4"/><circle cx="551.9" cy="175.6" r="3.4"/><circle cx="554.2" cy="175.8" r="3.4"/><circle cx="554.2" cy="176.9" r="3.4"/><circle cx="556.4" cy="175.7" r="3.4"/><circle cx="556.4" cy="177.4" r="3.4"/><circle cx="558.7" cy="176.0" r="3.4"/><circle cx="558.7" cy="177.0" r="3.4"/><circle cx="560.9" cy="177.1" r="3.4"/><circle cx="560.9" cy="178.1" r="3.4"/><circle cx="563.2" cy="176.8" r="3.4"/><circle cx="563.2" cy="177.5" r="3.4"/><circle cx="565.5" cy="177.1" r="3.4"/><circle cx="565.5" cy="178.3" r="3.4"/><circle cx="567.7" cy="178.0" r="3.4"/><circle cx="567.7" cy="178.2" r="3.4"/><circle cx="570.0" cy="177.5" r="3.4"/><circle cx="570.0" cy="179.3" r="3.4"/><circle cx="572.2" cy="177.4" r="3.4"/><circle cx="572.2" cy="178.8" r="3.4"/><circle cx="574.5" cy="178.7" r="3.4"/><circle cx="574.5" cy="179.4" r="3.4"/><circle cx="576.8" cy="178.0" r="3.4"/><circle cx="576.8" cy="178.6" r="3.4"/><circle cx="579.0" cy="178.4" r="3.4"/><circle cx="579.0" cy="179.9" r="3.4"/><circle cx="581.3" cy="178.8" r="3.4"/><circle cx="581.3" cy="179.8" r="3.4"/><circle cx="583.5" cy="179.7" r="3.4"/><circle cx="583.5" cy="179.2" r="3.4"/><circle cx="585.8" cy="178.9" r="3.4"/><circle cx="585.8" cy="180.0" r="3.4"/><circle cx="588.1" cy="179.5" r="3.4"/><circle cx="588.1" cy="179.1" r="3.4"/><circle cx="590.3" cy="179.7" r="3.4"/><circle cx="590.3" cy="179.2" r="3.4"/><circle cx="592.6" cy="179.2" r="3.4"/><circle cx="592.6" cy="178.8" r="3.4"/><circle cx="594.8" cy="179.9" r="3.4"/><circle cx="594.8" cy="180.0" r="3.4"/><circle cx="597.1" cy="179.6" r="3.4"/><circle cx="597.1" cy="180.0" r="3.4"/><circle cx="599.4" cy="178.7" r="3.4"/><circle cx="599.4" cy="179.1" r="3.4"/><circle cx="601.6" cy="179.2" r="3.4"/><circle cx="601.6" cy="180.0" r="3.4"/><circle cx="603.9" cy="179.7" r="3.4"/><circle cx="603.9" cy="179.3" r="3.4"/><circle cx="606.1" cy="178.7" r="3.4"/><circle cx="606.1" cy="179.3" r="3.4"/><circle cx="608.4" cy="178.9" r="3.4"/><circle cx="608.4" cy="179.8" r="3.4"/><circle cx="610.7" cy="178.4" r="3.4"/><circle cx="610.7" cy="179.5" r="3.4"/><circle cx="612.9" cy="179.1" r="3.4"/><circle cx="612.9" cy="179.3" r="3.4"/><circle cx="615.2" cy="179.1" r="3.4"/><circle cx="615.2" cy="178.9" r="3.4"/><circle cx="617.4" cy="178.4" r="3.4"/><circle cx="617.4" cy="178.4" r="3.4"/><circle cx="619.7" cy="178.4" r="3.4"/><circle cx="619.7" cy="178.8" r="3.4"/><circle cx="622.0" cy="178.2" r="3.4"/><circle cx="622.0" cy="178.2" r="3.4"/><circle cx="624.2" cy="179.3" r="3.4"/><circle cx="624.2" cy="178.4" r="3.4"/><circle cx="626.5" cy="178.6" r="3.4"/><circle cx="626.5" cy="178.3" r="3.4"/><circle cx="628.7" cy="179.5" r="3.4"/><circle cx="628.7" cy="178.8" r="3.4"/><circle cx="631.0" cy="180.3" r="3.4"/><circle cx="631.0" cy="179.7" r="3.4"/><circle cx="633.3" cy="180.5" r="3.4"/><circle cx="633.3" cy="179.0" r="3.4"/><circle cx="635.5" cy="179.6" r="3.4"/><circle cx="635.5" cy="179.0" r="3.4"/><circle cx="637.8" cy="180.4" r="3.4"/><circle cx="637.8" cy="180.4" r="3.4"/><circle cx="640.0" cy="180.6" r="3.4"/><circle cx="640.0" cy="180.3" r="3.4"/><circle cx="642.3" cy="180.8" r="3.4"/><circle cx="642.3" cy="181.3" r="3.4"/><circle cx="644.6" cy="181.4" r="3.4"/><circle cx="644.6" cy="182.0" r="3.4"/><circle cx="646.8" cy="181.9" r="3.4"/><circle cx="646.8" cy="182.4" r="3.4"/><circle cx="649.1" cy="180.7" r="3.4"/><circle cx="649.1" cy="182.4" r="3.4"/><circle cx="651.3" cy="180.2" r="3.4"/><circle cx="651.3" cy="181.0" r="3.4"/><circle cx="653.6" cy="179.5" r="3.4"/><circle cx="653.6" cy="180.2" r="3.4"/><circle cx="655.9" cy="179.0" r="3.4"/><circle cx="655.9" cy="179.3" r="3.4"/><circle cx="658.1" cy="178.9" r="3.4"/><circle cx="658.1" cy="179.1" r="3.4"/><circle cx="660.4" cy="179.5" r="3.4"/><circle cx="660.4" cy="179.5" r="3.4"/><circle cx="662.6" cy="178.8" r="3.4"/><circle cx="662.6" cy="179.2" r="3.4"/><circle cx="664.9" cy="179.7" r="3.4"/><circle cx="664.9" cy="179.3" r="3.4"/><circle cx="667.2" cy="178.7" r="3.4"/><circle cx="667.2" cy="179.6" r="3.4"/><circle cx="669.4" cy="179.2" r="3.4"/><circle cx="669.4" cy="179.8" r="3.4"/><circle cx="671.7" cy="178.5" r="3.4"/><circle cx="671.7" cy="179.0" r="3.4"/><circle cx="673.9" cy="179.5" r="3.4"/><circle cx="673.9" cy="179.4" r="3.4"/><circle cx="676.2" cy="179.5" r="3.4"/><circle cx="676.2" cy="178.3" r="3.4"/><circle cx="678.5" cy="178.6" r="3.4"/><circle cx="678.5" cy="178.3" r="3.4"/><circle cx="680.7" cy="178.3" r="3.4"/><circle cx="680.7" cy="179.4" r="3.4"/><circle cx="683.0" cy="178.6" r="3.4"/><circle cx="683.0" cy="179.2" r="3.4"/><circle cx="685.2" cy="178.2" r="3.4"/><circle cx="685.2" cy="179.1" r="3.4"/><circle cx="687.5" cy="178.2" r="3.4"/><circle cx="687.5" cy="178.2" r="3.4"/><circle cx="689.8" cy="178.4" r="3.4"/><circle cx="689.8" cy="179.0" r="3.4"/><circle cx="692.0" cy="177.5" r="3.4"/><circle cx="692.0" cy="178.6" r="3.4"/><circle cx="694.3" cy="178.2" r="3.4"/><circle cx="694.3" cy="178.1" r="3.4"/><circle cx="696.5" cy="177.9" r="3.4"/><circle cx="696.5" cy="178.0" r="3.4"/><circle cx="698.8" cy="177.7" r="3.4"/><circle cx="698.8" cy="178.1" r="3.4"/><circle cx="701.1" cy="178.1" r="3.4"/><circle cx="701.1" cy="178.7" r="3.4"/><circle cx="703.3" cy="177.6" r="3.4"/><circle cx="703.3" cy="178.0" r="3.4"/><circle cx="705.6" cy="177.6" r="3.4"/><circle cx="705.6" cy="179.1" r="3.4"/><circle cx="707.8" cy="177.4" r="3.4"/><circle cx="707.8" cy="178.7" r="3.4"/><circle cx="710.1" cy="177.3" r="3.4"/><circle cx="710.1" cy="179.5" r="3.4"/><circle cx="712.4" cy="177.7" r="3.4"/><circle cx="712.4" cy="178.7" r="3.4"/><circle cx="714.6" cy="177.0" r="3.4"/><circle cx="714.6" cy="179.3" r="3.4"/><circle cx="716.9" cy="177.4" r="3.4"/><circle cx="716.9" cy="179.4" r="3.4"/><circle cx="719.1" cy="176.6" r="3.4"/><circle cx="719.1" cy="178.5" r="3.4"/><circle cx="721.4" cy="177.2" r="3.4"/><circle cx="721.4" cy="178.5" r="3.4"/><circle cx="723.7" cy="176.4" r="3.4"/><circle cx="723.7" cy="178.1" r="3.4"/><circle cx="725.9" cy="177.0" r="3.4"/><circle cx="725.9" cy="177.8" r="3.4"/><circle cx="728.2" cy="176.3" r="3.4"/><circle cx="728.2" cy="177.6" r="3.4"/><circle cx="730.4" cy="176.0" r="3.4"/><circle cx="730.4" cy="178.0" r="3.4"/><circle cx="732.7" cy="176.8" r="3.4"/><circle cx="732.7" cy="177.1" r="3.4"/><circle cx="735.0" cy="175.8" r="3.4"/><circle cx="735.0" cy="177.4" r="3.4"/><circle cx="737.2" cy="175.9" r="3.4"/><circle cx="737.2" cy="176.2" r="3.4"/><circle cx="739.5" cy="176.9" r="3.4"/><circle cx="739.5" cy="176.5" r="3.4"/><circle cx="741.7" cy="176.9" r="3.4"/><circle cx="741.7" cy="176.3" r="3.4"/><circle cx="744.0" cy="177.0" r="3.4"/><circle cx="744.0" cy="176.1" r="3.4"/><circle cx="746.3" cy="175.9" r="3.4"/><circle cx="746.3" cy="175.4" r="3.4"/><circle cx="748.5" cy="176.1" r="3.4"/><circle cx="748.5" cy="176.2" r="3.4"/><circle cx="750.8" cy="176.3" r="3.4"/><circle cx="750.8" cy="175.5" r="3.4"/><circle cx="753.0" cy="175.6" r="3.4"/><circle cx="753.0" cy="175.9" r="3.4"/><circle cx="755.3" cy="175.2" r="3.4"/><circle cx="755.3" cy="175.6" r="3.4"/><circle cx="757.6" cy="174.6" r="3.4"/><circle cx="757.6" cy="176.1" r="3.4"/><circle cx="759.8" cy="175.1" r="3.4"/><circle cx="759.8" cy="175.5" r="3.4"/><circle cx="762.1" cy="174.1" r="3.4"/><circle cx="762.1" cy="176.0" r="3.4"/><circle cx="764.3" cy="174.3" r="3.4"/><circle cx="764.3" cy="174.8" r="3.4"/><circle cx="766.6" cy="172.8" r="3.4"/><circle cx="766.6" cy="175.4" r="3.4"/><circle cx="768.9" cy="173.5" r="3.4"/><circle cx="768.9" cy="174.3" r="3.4"/><circle cx="771.1" cy="171.8" r="3.4"/><circle cx="771.1" cy="174.5" r="3.4"/><circle cx="773.4" cy="171.9" r="3.4"/><circle cx="773.4" cy="174.1" r="3.4"/><circle cx="775.6" cy="172.1" r="3.4"/><circle cx="775.6" cy="174.3" r="3.4"/><circle cx="777.9" cy="171.3" r="3.4"/><circle cx="777.9" cy="174.5" r="3.4"/><circle cx="780.2" cy="171.3" r="3.4"/><circle cx="780.2" cy="174.2" r="3.4"/><circle cx="782.4" cy="172.1" r="3.4"/><circle cx="782.4" cy="174.8" r="3.4"/><circle cx="784.7" cy="171.2" r="3.4"/><circle cx="784.7" cy="174.0" r="3.4"/><circle cx="786.9" cy="170.9" r="3.4"/><circle cx="786.9" cy="174.4" r="3.4"/><circle cx="789.2" cy="169.5" r="3.4"/><circle cx="789.2" cy="174.1" r="3.4"/><circle cx="791.5" cy="168.0" r="3.4"/><circle cx="791.5" cy="175.0" r="3.4"/><circle cx="793.7" cy="169.4" r="3.4"/><circle cx="793.7" cy="173.6" r="3.4"/><circle cx="796.0" cy="170.1" r="3.4"/><circle cx="796.0" cy="173.8" r="3.4"/><circle cx="798.2" cy="170.3" r="3.4"/><circle cx="798.2" cy="173.1" r="3.4"/><circle cx="800.5" cy="168.9" r="3.4"/><circle cx="800.5" cy="172.4" r="3.4"/><circle cx="802.8" cy="167.9" r="3.4"/><circle cx="802.8" cy="172.0" r="3.4"/><circle cx="805.0" cy="166.4" r="3.4"/><circle cx="805.0" cy="171.4" r="3.4"/><circle cx="807.3" cy="165.7" r="3.4"/><circle cx="807.3" cy="171.2" r="3.4"/><circle cx="809.5" cy="164.7" r="3.4"/><circle cx="809.5" cy="171.0" r="3.4"/><circle cx="811.8" cy="163.3" r="3.4"/><circle cx="811.8" cy="170.3" r="3.4"/><circle cx="814.1" cy="162.9" r="3.4"/><circle cx="814.1" cy="170.4" r="3.4"/><circle cx="816.3" cy="162.3" r="3.4"/><circle cx="816.3" cy="169.9" r="3.4"/><circle cx="818.6" cy="162.9" r="3.4"/><circle cx="818.6" cy="168.7" r="3.4"/><circle cx="820.8" cy="162.0" r="3.4"/><circle cx="820.8" cy="167.9" r="3.4"/><circle cx="823.1" cy="161.7" r="3.4"/><circle cx="823.1" cy="166.7" r="3.4"/><circle cx="825.4" cy="162.0" r="3.4"/><circle cx="825.4" cy="165.9" r="3.4"/><circle cx="827.6" cy="161.9" r="3.4"/><circle cx="827.6" cy="165.6" r="3.4"/><circle cx="829.9" cy="161.3" r="3.4"/><circle cx="829.9" cy="165.0" r="3.4"/><circle cx="832.1" cy="161.5" r="3.4"/><circle cx="832.1" cy="164.8" r="3.4"/><circle cx="834.4" cy="162.5" r="3.4"/><circle cx="834.4" cy="164.2" r="3.4"/><circle cx="836.7" cy="161.7" r="3.4"/><circle cx="836.7" cy="164.0" r="3.4"/><circle cx="838.9" cy="162.3" r="3.4"/><circle cx="838.9" cy="164.3" r="3.4"/><circle cx="841.2" cy="162.0" r="3.4"/><circle cx="841.2" cy="164.0" r="3.4"/><circle cx="843.4" cy="163.1" r="3.4"/><circle cx="843.4" cy="163.9" r="3.4"/><circle cx="845.7" cy="162.8" r="3.4"/><circle cx="845.7" cy="163.2" r="3.4"/><circle cx="848.0" cy="162.9" r="3.4"/><circle cx="848.0" cy="163.5" r="3.4"/><circle cx="850.2" cy="162.8" r="3.4"/><circle cx="850.2" cy="164.1" r="3.4"/><circle cx="852.5" cy="161.7" r="3.4"/><circle cx="852.5" cy="163.9" r="3.4"/><circle cx="854.7" cy="162.6" r="3.4"/><circle cx="854.7" cy="163.0" r="3.4"/><circle cx="857.0" cy="162.1" r="3.4"/><circle cx="857.0" cy="164.4" r="3.4"/><circle cx="859.3" cy="162.0" r="3.4"/><circle cx="859.3" cy="165.1" r="3.4"/><circle cx="861.5" cy="162.4" r="3.4"/><circle cx="861.5" cy="165.6" r="3.4"/><circle cx="863.8" cy="162.5" r="3.4"/><circle cx="863.8" cy="165.7" r="3.4"/><circle cx="866.0" cy="163.7" r="3.4"/><circle cx="866.0" cy="165.9" r="3.4"/><circle cx="868.3" cy="163.1" r="3.4"/><circle cx="868.3" cy="166.8" r="3.4"/><circle cx="870.6" cy="163.5" r="3.4"/><circle cx="870.6" cy="166.7" r="3.4"/><circle cx="872.8" cy="164.3" r="3.4"/><circle cx="872.8" cy="167.0" r="3.4"/><circle cx="875.1" cy="166.1" r="3.4"/><circle cx="875.1" cy="167.8" r="3.4"/><circle cx="877.3" cy="167.0" r="3.4"/><circle cx="877.3" cy="167.3" r="3.4"/><circle cx="879.6" cy="167.8" r="3.4"/><circle cx="879.6" cy="167.4" r="3.4"/><circle cx="881.9" cy="168.1" r="3.4"/><circle cx="881.9" cy="168.6" r="3.4"/><circle cx="884.1" cy="168.6" r="3.4"/><circle cx="884.1" cy="169.5" r="3.4"/><circle cx="886.4" cy="169.5" r="3.4"/><circle cx="886.4" cy="169.6" r="3.4"/><circle cx="888.6" cy="170.6" r="3.4"/><circle cx="888.6" cy="169.6" r="3.4"/><circle cx="890.9" cy="171.1" r="3.4"/><circle cx="890.9" cy="170.6" r="3.4"/><circle cx="893.2" cy="169.9" r="3.4"/><circle cx="893.2" cy="170.8" r="3.4"/><circle cx="895.4" cy="169.4" r="3.4"/><circle cx="895.4" cy="171.1" r="3.4"/><circle cx="897.7" cy="169.5" r="3.4"/><circle cx="897.7" cy="170.3" r="3.4"/><circle cx="899.9" cy="169.4" r="3.4"/><circle cx="899.9" cy="170.4" r="3.4"/><circle cx="902.2" cy="168.7" r="3.4"/><circle cx="902.2" cy="170.8" r="3.4"/><circle cx="904.5" cy="168.7" r="3.4"/><circle cx="904.5" cy="170.9" r="3.4"/><circle cx="906.7" cy="169.1" r="3.4"/><circle cx="906.7" cy="170.6" r="3.4"/><circle cx="909.0" cy="170.1" r="3.4"/><circle cx="909.0" cy="170.6" r="3.4"/><circle cx="911.2" cy="169.6" r="3.4"/><circle cx="911.2" cy="170.5" r="3.4"/><circle cx="913.5" cy="168.6" r="3.4"/><circle cx="913.5" cy="170.5" r="3.4"/><circle cx="915.8" cy="168.5" r="3.4"/><circle cx="915.8" cy="171.8" r="3.4"/><circle cx="918.0" cy="168.7" r="3.4"/><circle cx="918.0" cy="172.1" r="3.4"/><circle cx="920.3" cy="169.0" r="3.4"/><circle cx="920.3" cy="172.0" r="3.4"/><circle cx="922.5" cy="167.9" r="3.4"/><circle cx="922.5" cy="173.2" r="3.4"/><circle cx="924.8" cy="167.4" r="3.4"/><circle cx="924.8" cy="172.8" r="3.4"/><circle cx="927.1" cy="168.0" r="3.4"/><circle cx="927.1" cy="172.5" r="3.4"/><circle cx="929.3" cy="168.2" r="3.4"/><circle cx="929.3" cy="172.2" r="3.4"/><circle cx="931.6" cy="168.6" r="3.4"/><circle cx="931.6" cy="172.2" r="3.4"/><circle cx="933.8" cy="168.3" r="3.4"/><circle cx="933.8" cy="171.8" r="3.4"/><circle cx="936.1" cy="168.8" r="3.4"/><circle cx="936.1" cy="170.8" r="3.4"/><circle cx="938.4" cy="169.5" r="3.4"/><circle cx="938.4" cy="170.4" r="3.4"/><circle cx="940.6" cy="168.8" r="3.4"/><circle cx="940.6" cy="170.0" r="3.4"/><circle cx="942.9" cy="170.2" r="3.4"/><circle cx="942.9" cy="171.4" r="3.4"/><circle cx="945.1" cy="171.1" r="3.4"/><circle cx="945.1" cy="171.2" r="3.4"/></g>
<circle cx="143.3" cy="199.1" r="3.4" fill="#000099"/>
<circle cx="148.2" cy="184.2" r="3.4" fill="#000099"/>
<circle cx="158.4" cy="192.5" r="3.4" fill="#000099"/>
<circle cx="164.3" cy="184.2" r="3.4" fill="#000099"/>
<circle cx="179.3" cy="198.6" r="3.4" fill="#000099"/>
<circle cx="236.3" cy="184.2" r="3.4" fill="#000099"/>
<circle cx="245.2" cy="181.2" r="3.4" fill="#000099"/>
<circle cx="277.5" cy="187.5" r="3.4" fill="#000099"/>
<circle cx="283" cy="181" r="3.4" fill="#000099"/>
<circle cx="293.3" cy="189.7" r="3.4" fill="#000099"/>
<circle cx="300.5" cy="181" r="3.4" fill="#000099"/>
<circle cx="314.4" cy="188.2" r="3.4" fill="#000099"/>
<circle cx="348.4" cy="188.2" r="3.4" fill="#000099"/>
<circle cx="361.3" cy="182.2" r="3.4" fill="#000099"/>
<circle cx="372.3" cy="180.3" r="3.4" fill="#000099"/>
<circle cx="378.4" cy="194.4" r="3.4" fill="#000099"/>
<circle cx="383.4" cy="184.2" r="3.4" fill="#000099"/>
<circle cx="391.3" cy="182.2" r="3.4" fill="#000099"/>
<circle cx="410.4" cy="184.2" r="3.4" fill="#000099"/>
<circle cx="425.3" cy="205.6" r="3.4" fill="#000099"/>
<circle cx="431.3" cy="183.2" r="3.4" fill="#000099"/>
<circle cx="443.4" cy="186.5" r="3.4" fill="#000099"/>
<circle cx="449.3" cy="177.3" r="3.4" fill="#000099"/>
<circle cx="472.4" cy="198.6" r="3.4" fill="#000099"/>
<circle cx="505.9" cy="180.3" r="3.4" fill="#000099"/>
<circle cx="513.4" cy="180.3" r="3.4" fill="#000099"/>
<circle cx="521.8" cy="183.7" r="3.4" fill="#000099"/>
<circle cx="529.2" cy="197.6" r="3.4" fill="#000099"/>
<circle cx="562.5" cy="197.6" r="3.4" fill="#000099"/>
<circle cx="579.8" cy="185.2" r="3.4" fill="#000099"/>
<circle cx="598.4" cy="202.6" r="3.4" fill="#000099"/>
<circle cx="609.3" cy="188.2" r="3.4" fill="#000099"/>
<circle cx="616.8" cy="188.2" r="3.4" fill="#000099"/>
<circle cx="644.1" cy="187.2" r="3.4" fill="#000099"/>
<circle cx="651" cy="187.7" r="3.4" fill="#000099"/>
<circle cx="650" cy="194.1" r="3.4" fill="#000099"/>
<circle cx="649.5" cy="198.1" r="3.4" fill="#000099"/>
<circle cx="660" cy="185.2" r="3.4" fill="#000099"/>
<circle cx="679.8" cy="188.2" r="3.4" fill="#000099"/>
<circle cx="782.7" cy="188.7" r="3.4" fill="#000099"/>
<circle cx="697" cy="181.7" r="3.4" fill="#000099"/>
<circle cx="717.7" cy="183.2" r="3.4" fill="#000099"/>
<circle cx="727.7" cy="180.8" r="3.4" fill="#000099"/>
<circle cx="796.9" cy="185.1" r="3.4" fill="#000099"/>
<circle cx="796.4" cy="179.7" r="3.4" fill="#000099"/>
<circle cx="802.3" cy="179.7" r="3.4" fill="#000099"/>
<circle cx="815.2" cy="176.2" r="3.4" fill="#000099"/>
<circle cx="820.2" cy="179.2" r="3.4" fill="#000099"/>
<circle cx="827.1" cy="177.2" r="3.4" fill="#000099"/>
<circle cx="828.6" cy="170.8" r="3.4" fill="#000099"/>
<circle cx="838.3" cy="175.7" r="3.4" fill="#000099"/>
<circle cx="845.3" cy="180.7" r="3.4" fill="#000099"/>
<circle cx="853.2" cy="172.7" r="3.4" fill="#000099"/>
<circle cx="860.2" cy="177.7" r="3.4" fill="#000099"/>
<circle cx="861.3" cy="170.8" r="3.4" fill="#000099"/>
<circle cx="867.3" cy="173.7" r="3.4" fill="#000099"/>
<circle cx="878.2" cy="175.7" r="3.4" fill="#000099"/>
<circle cx="878.4" cy="176.2" r="3.4" fill="#000099"/>
<circle cx="890.3" cy="176.7" r="3.4" fill="#000099"/>
<circle cx="892.3" cy="189.6" r="3.4" fill="#000099"/>
<circle cx="899.8" cy="177.2" r="3.4" fill="#000099"/>
<circle cx="906.7" cy="202" r="3.4" fill="#000099"/>
<circle cx="925.1" cy="174.2" r="3.4" fill="#000099"/>
<circle cx="933.5" cy="176.7" r="3.4" fill="#000099"/>
<circle cx="942.4" cy="177.2" r="3.4" fill="#000099"/>
<circle cx="941.4" cy="188.1" r="3.4" fill="#000099"/>
<circle cx="251.5" cy="420.1" r="3.4" fill="#000099"/>
<circle cx="780.4" cy="316.3" r="3.4" fill="#000099"/>
<circle cx="779.5" cy="396.9" r="3.4" fill="#000099"/>
<polygon points="122,497.4 200,497.3 400,497.2 600,497.1 760,497.1 785,495.8 792,495.0 800,495.3 810,496.4 860,496.8 880,496.4 945,496.4 948,497 948,504 122,504" fill="#c48cd6" stroke="#c48cd6" stroke-width="0.6" stroke-linejoin="round"/>
<g fill="#c48cd6"><circle cx="124.0" cy="498.6" r="3"/><circle cx="128.5" cy="498.2" r="3"/><circle cx="133.0" cy="499.2" r="3"/><circle cx="137.5" cy="499.1" r="3"/><circle cx="142.0" cy="498.8" r="3"/><circle cx="146.5" cy="499.2" r="3"/><circle cx="151.0" cy="498.9" r="3"/><circle cx="155.5" cy="499.7" r="3"/><circle cx="160.0" cy="499.4" r="3"/><circle cx="164.5" cy="498.6" r="3"/><circle cx="169.0" cy="499.6" r="3"/><circle cx="173.5" cy="498.3" r="3"/><circle cx="178.0" cy="499.1" r="3"/><circle cx="182.5" cy="498.8" r="3"/><circle cx="187.0" cy="498.6" r="3"/><circle cx="191.5" cy="498.3" r="3"/><circle cx="196.0" cy="499.4" r="3"/><circle cx="200.5" cy="498.2" r="3"/><circle cx="205.0" cy="499.1" r="3"/><circle cx="209.5" cy="499.7" r="3"/><circle cx="214.0" cy="498.4" r="3"/><circle cx="218.5" cy="498.5" r="3"/><circle cx="223.0" cy="499.2" r="3"/><circle cx="227.5" cy="499.0" r="3"/><circle cx="232.0" cy="499.2" r="3"/><circle cx="236.5" cy="499.5" r="3"/><circle cx="241.0" cy="498.5" r="3"/><circle cx="245.5" cy="498.7" r="3"/><circle cx="250.0" cy="498.7" r="3"/><circle cx="254.5" cy="498.3" r="3"/><circle cx="259.0" cy="499.6" r="3"/><circle cx="263.5" cy="499.5" r="3"/><circle cx="268.0" cy="499.3" r="3"/><circle cx="272.5" cy="498.2" r="3"/><circle cx="277.0" cy="499.6" r="3"/><circle cx="281.5" cy="499.4" r="3"/><circle cx="286.0" cy="498.9" r="3"/><circle cx="290.5" cy="499.4" r="3"/><circle cx="295.0" cy="498.9" r="3"/><circle cx="299.5" cy="498.6" r="3"/><circle cx="304.0" cy="498.4" r="3"/><circle cx="308.5" cy="498.6" r="3"/><circle cx="313.0" cy="498.3" r="3"/><circle cx="317.5" cy="498.7" r="3"/><circle cx="322.0" cy="499.4" r="3"/><circle cx="326.5" cy="499.3" r="3"/><circle cx="331.0" cy="499.6" r="3"/><circle cx="335.5" cy="499.3" r="3"/><circle cx="340.0" cy="498.6" r="3"/><circle cx="344.5" cy="499.1" r="3"/><circle cx="349.0" cy="498.9" r="3"/><circle cx="353.5" cy="499.5" r="3"/><circle cx="358.0" cy="499.0" r="3"/><circle cx="362.5" cy="498.6" r="3"/><circle cx="367.0" cy="499.2" r="3"/><circle cx="371.5" cy="499.7" r="3"/><circle cx="376.0" cy="498.5" r="3"/><circle cx="380.5" cy="499.6" r="3"/><circle cx="385.0" cy="498.2" r="3"/><circle cx="389.5" cy="498.6" r="3"/><circle cx="394.0" cy="498.6" r="3"/><circle cx="398.5" cy="499.4" r="3"/><circle cx="403.0" cy="499.7" r="3"/><circle cx="407.5" cy="499.4" r="3"/><circle cx="412.0" cy="498.7" r="3"/><circle cx="416.5" cy="499.6" r="3"/><circle cx="421.0" cy="498.7" r="3"/><circle cx="425.5" cy="498.6" r="3"/><circle cx="430.0" cy="499.7" r="3"/><circle cx="434.5" cy="499.2" r="3"/><circle cx="439.0" cy="499.3" r="3"/><circle cx="443.5" cy="499.3" r="3"/><circle cx="448.0" cy="499.8" r="3"/><circle cx="452.5" cy="499.0" r="3"/><circle cx="457.0" cy="499.5" r="3"/><circle cx="461.5" cy="499.3" r="3"/><circle cx="466.0" cy="499.6" r="3"/><circle cx="470.5" cy="498.9" r="3"/><circle cx="475.0" cy="499.4" r="3"/><circle cx="479.5" cy="499.1" r="3"/><circle cx="484.0" cy="498.7" r="3"/><circle cx="488.5" cy="498.5" r="3"/><circle cx="493.0" cy="499.2" r="3"/><circle cx="497.5" cy="498.3" r="3"/><circle cx="502.0" cy="499.7" r="3"/><circle cx="506.5" cy="498.4" r="3"/><circle cx="511.0" cy="498.2" r="3"/><circle cx="515.5" cy="498.4" r="3"/><circle cx="520.0" cy="499.7" r="3"/><circle cx="524.5" cy="498.8" r="3"/><circle cx="529.0" cy="498.4" r="3"/><circle cx="533.5" cy="498.2" r="3"/><circle cx="538.0" cy="498.3" r="3"/><circle cx="542.5" cy="499.3" r="3"/><circle cx="547.0" cy="499.2" r="3"/><circle cx="551.5" cy="499.3" r="3"/><circle cx="556.0" cy="499.4" r="3"/><circle cx="560.5" cy="498.3" r="3"/><circle cx="565.0" cy="499.1" r="3"/><circle cx="569.5" cy="498.8" r="3"/><circle cx="574.0" cy="499.5" r="3"/><circle cx="578.5" cy="499.5" r="3"/><circle cx="583.0" cy="499.6" r="3"/><circle cx="587.5" cy="498.3" r="3"/><circle cx="592.0" cy="499.6" r="3"/><circle cx="596.5" cy="499.7" r="3"/><circle cx="601.0" cy="499.7" r="3"/><circle cx="605.5" cy="498.4" r="3"/><circle cx="610.0" cy="498.5" r="3"/><circle cx="614.5" cy="498.4" r="3"/><circle cx="619.0" cy="498.3" r="3"/><circle cx="623.5" cy="499.6" r="3"/><circle cx="628.0" cy="499.5" r="3"/><circle cx="632.5" cy="499.2" r="3"/><circle cx="637.0" cy="499.5" r="3"/><circle cx="641.5" cy="499.2" r="3"/><circle cx="646.0" cy="498.7" r="3"/><circle cx="650.5" cy="498.4" r="3"/><circle cx="655.0" cy="498.4" r="3"/><circle cx="659.5" cy="499.4" r="3"/><circle cx="664.0" cy="498.5" r="3"/><circle cx="668.5" cy="498.7" r="3"/><circle cx="673.0" cy="498.9" r="3"/><circle cx="677.5" cy="498.2" r="3"/><circle cx="682.0" cy="498.6" r="3"/><circle cx="686.5" cy="498.7" r="3"/><circle cx="691.0" cy="499.3" r="3"/><circle cx="695.5" cy="498.8" r="3"/><circle cx="700.0" cy="498.7" r="3"/><circle cx="704.5" cy="499.7" r="3"/><circle cx="709.0" cy="499.0" r="3"/><circle cx="713.5" cy="499.6" r="3"/><circle cx="718.0" cy="499.2" r="3"/><circle cx="722.5" cy="498.2" r="3"/><circle cx="727.0" cy="498.9" r="3"/><circle cx="731.5" cy="498.9" r="3"/><circle cx="736.0" cy="499.4" r="3"/><circle cx="740.5" cy="498.8" r="3"/><circle cx="745.0" cy="499.3" r="3"/><circle cx="749.5" cy="499.1" r="3"/><circle cx="754.0" cy="498.5" r="3"/><circle cx="758.5" cy="499.6" r="3"/><circle cx="763.0" cy="498.3" r="3"/><circle cx="767.5" cy="499.5" r="3"/><circle cx="772.0" cy="498.5" r="3"/><circle cx="776.5" cy="498.2" r="3"/><circle cx="781.0" cy="495.7" r="3"/><circle cx="785.5" cy="496.6" r="3"/><circle cx="790.0" cy="497.0" r="3"/><circle cx="794.5" cy="495.4" r="3"/><circle cx="799.0" cy="496.2" r="3"/><circle cx="803.5" cy="496.2" r="3"/><circle cx="808.0" cy="496.7" r="3"/><circle cx="812.5" cy="498.5" r="3"/><circle cx="817.0" cy="499.0" r="3"/><circle cx="821.5" cy="498.8" r="3"/><circle cx="826.0" cy="499.5" r="3"/><circle cx="830.5" cy="498.6" r="3"/><circle cx="835.0" cy="499.7" r="3"/><circle cx="839.5" cy="498.7" r="3"/><circle cx="844.0" cy="498.5" r="3"/><circle cx="848.5" cy="499.3" r="3"/><circle cx="853.0" cy="499.0" r="3"/><circle cx="857.5" cy="498.4" r="3"/><circle cx="862.0" cy="499.2" r="3"/><circle cx="866.5" cy="498.3" r="3"/><circle cx="871.0" cy="498.5" r="3"/><circle cx="875.5" cy="498.3" r="3"/><circle cx="880.0" cy="498.5" r="3"/><circle cx="884.5" cy="498.2" r="3"/><circle cx="889.0" cy="497.8" r="3"/><circle cx="893.5" cy="497.8" r="3"/><circle cx="898.0" cy="497.8" r="3"/><circle cx="902.5" cy="498.6" r="3"/><circle cx="907.0" cy="497.3" r="3"/><circle cx="911.5" cy="498.6" r="3"/><circle cx="916.0" cy="497.2" r="3"/><circle cx="920.5" cy="497.5" r="3"/><circle cx="925.0" cy="497.6" r="3"/><circle cx="929.5" cy="498.6" r="3"/><circle cx="934.0" cy="498.0" r="3"/><circle cx="938.5" cy="497.8" r="3"/><circle cx="943.0" cy="498.6" r="3"/></g>
<rect x="124.15" y="498" width="2.9" height="2.9" fill="#000"/>
<rect x="131.51" y="498" width="2.9" height="2.9" fill="#000"/>
<rect x="138.88" y="498" width="2.9" height="2.9" fill="#000"/>
<rect x="146.24" y="498" width="2.9" height="2.9" fill="#000"/>
<rect x="153.61" y="498" width="2.9" height="2.9" fill="#000"/>
<rect x="160.97" y="498" width="2.9" height="2.9" fill="#000"/>
<rect x="168.33" y="498" width="2.9" height="2.9" fill="#000"/>
<rect x="175.70" y="498" width="2.9" height="2.9" fill="#000"/>
<rect x="183.06" y="498" width="2.9" height="2.9" fill="#000"/>
<rect x="190.43" y="498" width="2.9" height="2.9" fill="#000"/>
<rect x="197.79" y="498" width="2.9" height="2.9" fill="#000"/>
<rect x="205.15" y="498" width="2.9" height="2.9" fill="#000"/>
<rect x="212.52" y="498" width="2.9" height="2.9" fill="#000"/>
<rect x="219.88" y="498" width="2.9" height="2.9" fill="#000"/>
<rect x="227.25" y="498" width="2.9" height="2.9" fill="#000"/>
<rect x="234.61" y="498" width="2.9" height="2.9" fill="#000"/>
<rect x="241.97" y="498" width="2.9" height="2.9" fill="#000"/>
<rect x="249.34" y="498" width="2.9" height="2.9" fill="#000"/>
<rect x="256.70" y="498" width="2.9" height="2.9" fill="#000"/>
<rect x="264.07" y="498" width="2.9" height="2.9" fill="#000"/>
<rect x="271.43" y="498" width="2.9" height="2.9" fill="#000"/>
<rect x="278.79" y="498" width="2.9" height="2.9" fill="#000"/>
<rect x="286.16" y="498" width="2.9" height="2.9" fill="#000"/>
<rect x="293.52" y="498" width="2.9" height="2.9" fill="#000"/>
<rect x="300.89" y="498" width="2.9" height="2.9" fill="#000"/>
<rect x="308.25" y="498" width="2.9" height="2.9" fill="#000"/>
<rect x="315.61" y="498" width="2.9" height="2.9" fill="#000"/>
<rect x="322.98" y="498" width="2.9" height="2.9" fill="#000"/>
<rect x="330.34" y="498" width="2.9" height="2.9" fill="#000"/>
<rect x="337.71" y="498" width="2.9" height="2.9" fill="#000"/>
<rect x="345.07" y="498" width="2.9" height="2.9" fill="#000"/>
<rect x="352.43" y="498" width="2.9" height="2.9" fill="#000"/>
<rect x="359.80" y="498" width="2.9" height="2.9" fill="#000"/>
<rect x="367.16" y="498" width="2.9" height="2.9" fill="#000"/>
<rect x="374.53" y="498" width="2.9" height="2.9" fill="#000"/>
<rect x="381.89" y="498" width="2.9" height="2.9" fill="#000"/>
<rect x="389.25" y="498" width="2.9" height="2.9" fill="#000"/>
<rect x="396.62" y="498" width="2.9" height="2.9" fill="#000"/>
<rect x="403.98" y="498" width="2.9" height="2.9" fill="#000"/>
<rect x="411.35" y="498" width="2.9" height="2.9" fill="#000"/>
<rect x="418.71" y="498" width="2.9" height="2.9" fill="#000"/>
<rect x="426.07" y="498" width="2.9" height="2.9" fill="#000"/>
<rect x="433.44" y="498" width="2.9" height="2.9" fill="#000"/>
<rect x="440.80" y="498" width="2.9" height="2.9" fill="#000"/>
<rect x="448.17" y="498" width="2.9" height="2.9" fill="#000"/>
<rect x="455.53" y="498" width="2.9" height="2.9" fill="#000"/>
<rect x="462.89" y="498" width="2.9" height="2.9" fill="#000"/>
<rect x="470.26" y="498" width="2.9" height="2.9" fill="#000"/>
<rect x="477.62" y="498" width="2.9" height="2.9" fill="#000"/>
<rect x="484.99" y="498" width="2.9" height="2.9" fill="#000"/>
<rect x="492.35" y="498" width="2.9" height="2.9" fill="#000"/>
<rect x="499.71" y="498" width="2.9" height="2.9" fill="#000"/>
<rect x="507.08" y="498" width="2.9" height="2.9" fill="#000"/>
<rect x="514.44" y="498" width="2.9" height="2.9" fill="#000"/>
<rect x="521.81" y="498" width="2.9" height="2.9" fill="#000"/>
<rect x="529.17" y="498" width="2.9" height="2.9" fill="#000"/>
<rect x="536.53" y="498" width="2.9" height="2.9" fill="#000"/>
<rect x="543.90" y="498" width="2.9" height="2.9" fill="#000"/>
<rect x="551.26" y="498" width="2.9" height="2.9" fill="#000"/>
<rect x="558.63" y="498" width="2.9" height="2.9" fill="#000"/>
<rect x="565.99" y="498" width="2.9" height="2.9" fill="#000"/>
<rect x="573.35" y="498" width="2.9" height="2.9" fill="#000"/>
<rect x="580.72" y="498" width="2.9" height="2.9" fill="#000"/>
<rect x="588.08" y="498" width="2.9" height="2.9" fill="#000"/>
<rect x="595.45" y="498" width="2.9" height="2.9" fill="#000"/>
<rect x="602.81" y="498" width="2.9" height="2.9" fill="#000"/>
<rect x="610.17" y="498" width="2.9" height="2.9" fill="#000"/>
<rect x="617.54" y="498" width="2.9" height="2.9" fill="#000"/>
<rect x="624.90" y="498" width="2.9" height="2.9" fill="#000"/>
<rect x="632.27" y="498" width="2.9" height="2.9" fill="#000"/>
<rect x="639.63" y="498" width="2.9" height="2.9" fill="#000"/>
<rect x="646.99" y="498" width="2.9" height="2.9" fill="#000"/>
<rect x="654.36" y="498" width="2.9" height="2.9" fill="#000"/>
<rect x="661.72" y="498" width="2.9" height="2.9" fill="#000"/>
<rect x="669.09" y="498" width="2.9" height="2.9" fill="#000"/>
<rect x="676.45" y="498" width="2.9" height="2.9" fill="#000"/>
<rect x="683.81" y="498" width="2.9" height="2.9" fill="#000"/>
<rect x="691.18" y="498" width="2.9" height="2.9" fill="#000"/>
<rect x="698.54" y="498" width="2.9" height="2.9" fill="#000"/>
<rect x="705.91" y="498" width="2.9" height="2.9" fill="#000"/>
<rect x="713.27" y="498" width="2.9" height="2.9" fill="#000"/>
<rect x="720.63" y="498" width="2.9" height="2.9" fill="#000"/>
<rect x="728.00" y="498" width="2.9" height="2.9" fill="#000"/>
<rect x="735.36" y="498" width="2.9" height="2.9" fill="#000"/>
<rect x="742.73" y="498" width="2.9" height="2.9" fill="#000"/>
<rect x="750.09" y="498" width="2.9" height="2.9" fill="#000"/>
<rect x="757.45" y="498" width="2.9" height="2.9" fill="#000"/>
<rect x="764.82" y="498" width="2.9" height="2.9" fill="#000"/>
<rect x="772.18" y="498" width="2.9" height="2.9" fill="#000"/>
<rect x="779.55" y="498" width="2.9" height="2.9" fill="#000"/>
<rect x="786.91" y="498" width="2.9" height="2.9" fill="#000"/>
<rect x="794.27" y="498" width="2.9" height="2.9" fill="#000"/>
<rect x="801.64" y="498" width="2.9" height="2.9" fill="#000"/>
<rect x="809.00" y="498" width="2.9" height="2.9" fill="#000"/>
<rect x="816.37" y="498" width="2.9" height="2.9" fill="#000"/>
<rect x="823.73" y="498" width="2.9" height="2.9" fill="#000"/>
<rect x="831.09" y="498" width="2.9" height="2.9" fill="#000"/>
<rect x="838.46" y="498" width="2.9" height="2.9" fill="#000"/>
<rect x="845.82" y="498" width="2.9" height="2.9" fill="#000"/>
<rect x="853.19" y="498" width="2.9" height="2.9" fill="#000"/>
<rect x="860.55" y="498" width="2.9" height="2.9" fill="#000"/>
<rect x="867.91" y="498" width="2.9" height="2.9" fill="#000"/>
<rect x="875.28" y="498" width="2.9" height="2.9" fill="#000"/>
<rect x="882.64" y="498" width="2.9" height="2.9" fill="#000"/>
<rect x="890.01" y="498" width="2.9" height="2.9" fill="#000"/>
<rect x="897.37" y="498" width="2.9" height="2.9" fill="#000"/>
<rect x="904.73" y="498" width="2.9" height="2.9" fill="#000"/>
<rect x="912.10" y="498" width="2.9" height="2.9" fill="#000"/>
<rect x="919.46" y="498" width="2.9" height="2.9" fill="#000"/>
<rect x="926.83" y="498" width="2.9" height="2.9" fill="#000"/>
<rect x="934.19" y="498" width="2.9" height="2.9" fill="#000"/>
<rect x="941.55" y="498" width="2.9" height="2.9" fill="#000"/>
<rect x="946.4" y="498" width="2" height="2.9" fill="#000"/>
</g>
<line x1="123.1" x2="945" y1="115.1" y2="115.1" stroke="#c9a3c9" stroke-width="1.2" stroke-dasharray="7.6 1.3"/>
<line x1="123.1" x2="945" y1="121.3" y2="121.3" stroke="#c9a3c9" stroke-width="1.2" stroke-dasharray="7.6 1.3"/>
<path d="M122.1,115.6 H945.5 A2.6,2.6 0 0 1 945.5,120.8 H122.1 Z" fill="#660066"/>
<line x1="122.1" x2="989.0" y1="125.0" y2="125.0" stroke="#000" stroke-width="2"/>
<line x1="949.5" x2="949.5" y1="115.2" y2="134.8" stroke="#000" stroke-width="2.6"/>
<line x1="949.5" x2="949.5" y1="140.2" y2="502.85" stroke="#000" stroke-width="2.6" stroke-dasharray="9.9 4.8"/>
<rect x="122.1" y="112.0" width="866.90" height="390.85" fill="none" stroke="#000" stroke-width="2"/>
<line x1="112.10" x2="122.1" y1="499.00" y2="499.00" stroke="#000" stroke-width="2"/>
<line x1="116.10" x2="122.1" y1="461.55" y2="461.55" stroke="#000" stroke-width="2"/>
<line x1="112.10" x2="122.1" y1="424.00" y2="424.00" stroke="#000" stroke-width="2"/>
<line x1="116.10" x2="122.1" y1="386.65" y2="386.65" stroke="#000" stroke-width="2"/>
<line x1="112.10" x2="122.1" y1="349.00" y2="349.00" stroke="#000" stroke-width="2"/>
<line x1="116.10" x2="122.1" y1="311.75" y2="311.75" stroke="#000" stroke-width="2"/>
<line x1="112.10" x2="122.1" y1="274.00" y2="274.00" stroke="#000" stroke-width="2"/>
<line x1="116.10" x2="122.1" y1="236.85" y2="236.85" stroke="#000" stroke-width="2"/>
<line x1="112.10" x2="122.1" y1="199.00" y2="199.00" stroke="#000" stroke-width="2"/>
<line x1="116.10" x2="122.1" y1="161.95" y2="161.95" stroke="#000" stroke-width="2"/>
<line x1="112.10" x2="122.1" y1="125.00" y2="125.00" stroke="#000" stroke-width="2"/>
<line x1="124.00" x2="124.00" y1="502.85" y2="508.75" stroke="#000" stroke-width="2"/>
<line x1="159.00" x2="159.00" y1="502.85" y2="508.75" stroke="#000" stroke-width="2"/>
<line x1="193.00" x2="193.00" y1="502.85" y2="512.65" stroke="#000" stroke-width="2"/>
<line x1="228.00" x2="228.00" y1="502.85" y2="508.75" stroke="#000" stroke-width="2"/>
<line x1="263.00" x2="263.00" y1="502.85" y2="508.75" stroke="#000" stroke-width="2"/>
<line x1="297.00" x2="297.00" y1="502.85" y2="508.75" stroke="#000" stroke-width="2"/>
<line x1="332.00" x2="332.00" y1="502.85" y2="508.75" stroke="#000" stroke-width="2"/>
<line x1="366.00" x2="366.00" y1="502.85" y2="508.75" stroke="#000" stroke-width="2"/>
<line x1="401.00" x2="401.00" y1="502.85" y2="512.65" stroke="#000" stroke-width="2"/>
<line x1="436.00" x2="436.00" y1="502.85" y2="508.75" stroke="#000" stroke-width="2"/>
<line x1="468.00" x2="468.00" y1="502.85" y2="508.75" stroke="#000" stroke-width="2"/>
<line x1="503.00" x2="503.00" y1="502.85" y2="508.75" stroke="#000" stroke-width="2"/>
<line x1="537.00" x2="537.00" y1="502.85" y2="508.75" stroke="#000" stroke-width="2"/>
<line x1="572.00" x2="572.00" y1="502.85" y2="508.75" stroke="#000" stroke-width="2"/>
<line x1="606.00" x2="606.00" y1="502.85" y2="512.65" stroke="#000" stroke-width="2"/>
<line x1="641.00" x2="641.00" y1="502.85" y2="508.75" stroke="#000" stroke-width="2"/>
<line x1="676.00" x2="676.00" y1="502.85" y2="508.75" stroke="#000" stroke-width="2"/>
<line x1="710.00" x2="710.00" y1="502.85" y2="508.75" stroke="#000" stroke-width="2"/>
<line x1="745.00" x2="745.00" y1="502.85" y2="508.75" stroke="#000" stroke-width="2"/>
<line x1="778.00" x2="778.00" y1="502.85" y2="508.75" stroke="#000" stroke-width="2"/>
<line x1="814.00" x2="814.00" y1="502.85" y2="512.65" stroke="#000" stroke-width="2"/>
<line x1="849.00" x2="849.00" y1="502.85" y2="508.75" stroke="#000" stroke-width="2"/>
<line x1="880.00" x2="880.00" y1="502.85" y2="508.75" stroke="#000" stroke-width="2"/>
<line x1="915.00" x2="915.00" y1="502.85" y2="508.75" stroke="#000" stroke-width="2"/>
<line x1="949.00" x2="949.00" y1="502.85" y2="508.75" stroke="#000" stroke-width="2"/>
<line x1="984.00" x2="984.00" y1="502.85" y2="508.75" stroke="#000" stroke-width="2"/>
<text transform="translate(0,43.00) scale(1.1091,1)" x="205.94 230.28 249.21 266.47 285.70 298.57 316.74 335.10 355.36 363.55 383.78 401.83 421.61 438.80 457.39 469.83 488.20 493.20 516.52 539.86 559.85 564.85 589.23 613.57 632.51 649.76 668.99 681.86 699.09 719.38 731.71 740.69 759.99 779.00" y="0" style="font-size:31.25px;font-weight:bold;" fill="#000">Observed/Expected GPS Observations</text>
<text transform="translate(0,87.70) scale(0.9286,1)" x="333.03 353.92 370.49 389.23 409.74 428.78 447.31 460.27 478.83 483.83 508.97 513.97 528.99 549.84 573.50 594.17 603.98 623.64 645.50 665.59 684.54 689.54 712.80 730.58 750.78 760.65 765.65 789.98 808.56 827.01 845.98" y="0" style="font-size:29.80px;" fill="#000">ALKS00LVA - ROB-EUREF data node</text>
<text transform="translate(37.90,477.40) rotate(-90) scale(1.0003,1)" x="-1.56 19.23 34.42 47.84 54.87 72.35 87.18 92.18 109.91 130.70 145.89 159.26 175.41 185.31 198.73 215.74 224.91 231.74 247.37 262.65 267.65 283.33 293.59 318.15" y="0" style="font-size:25.73px;">Obs/Exp Observations (%)</text>
<text transform="translate(0,507.45) scale(1.0457,1)" x="83.85" y="0" style="font-size:25.00px;" fill="#000">0</text>
<text transform="translate(0,432.55) scale(1.0273,1)" x="69.80 85.48" y="0" style="font-size:25.00px;" fill="#000">20</text>
<text transform="translate(0,358.35) scale(1.0458,1)" x="68.75 83.84" y="0" style="font-size:25.00px;" fill="#000">40</text>
<text transform="translate(0,283.35) scale(1.0637,1)" x="67.48 82.32" y="0" style="font-size:25.00px;" fill="#000">60</text>
<text transform="translate(0,208.35) scale(1.0513,1)" x="68.36 83.37" y="0" style="font-size:25.00px;" fill="#000">80</text>
<text transform="translate(0,133.45) scale(1.0311,1)" x="54.41 69.83 85.14" y="0" style="font-size:25.00px;" fill="#000">100</text>
<text transform="translate(0,541.35) scale(1.0454,1)" x="136.01 151.06 166.13 173.88 189.28 204.06 219.47" y="0" style="font-size:25.00px;" fill="#000">07/2024</text>
<text transform="translate(0,541.35) scale(1.0330,1)" x="339.46 354.61 369.90 377.79 393.38 408.34 423.83" y="0" style="font-size:25.00px;" fill="#000">01/2025</text>
<text transform="translate(0,541.35) scale(1.0363,1)" x="536.18 551.36 566.53 574.38 589.92 604.83 620.28" y="0" style="font-size:25.00px;" fill="#000">07/2025</text>
<text transform="translate(0,541.35) scale(1.0477,1)" x="728.53 743.47 758.60 766.32 781.69 796.44 811.82" y="0" style="font-size:25.00px;" fill="#000">01/2026</text>
<text transform="translate(0,576.80) scale(1.0246,1)" x="473.48 494.95 510.11 526.04 534.96 550.33 556.79 569.92 583.85 600.54" y="0" style="font-size:25.87px;" fill="#000">Month/Year</text>
<text transform="translate(965.10,135.10) rotate(90) scale(0.7730,1)" x="-2.20 16.15 31.26" y="0" style="font-size:24.42px;stroke-width:0.6px;">Now</text>
<rect x="36.55" y="598.4" width="949.8" height="79.7" rx="4.5" fill="#fff" stroke="#d5d5d5" stroke-width="2.9"/>
<circle cx="58.4" cy="618.4" r="4.15" fill="#6666ff"/>
<circle cx="58.4" cy="654.3" r="4.15" fill="#000099"/>
<line x1="219.2" x2="244.7" y1="618.4" y2="618.4" stroke="#cc9ad9" stroke-width="1.1"/>
<circle cx="231.4" cy="618.4" r="4.15" fill="#c48cd6"/>
<rect x="379.25" y="616.95" width="3" height="2.9" fill="#000"/>
<rect x="386.60" y="616.95" width="3" height="2.9" fill="#000"/>
<rect x="394.00" y="616.95" width="3" height="2.9" fill="#000"/>
<rect x="401.40" y="616.95" width="3" height="2.9" fill="#000"/>
<circle cx="391.5" cy="618.4" r="2.8" fill="#000"/>
<circle cx="545.6" cy="618.4" r="4.2" fill="#7f7fbf"/>
<circle cx="706.4" cy="618.4" r="4.2" fill="#660066"/>
<circle cx="868.3" cy="618.4" r="4.2" fill="#2a0a2a"/>
<text transform="translate(0,625.85) scale(0.9540,1)" x="76.15 96.08 111.95 116.95 138.04 155.00" y="0" style="font-size:25.58px;" fill="#000">GPS 1f</text>
<text transform="translate(0,625.85) scale(1.0342,1)" x="238.00 253.27 268.04 273.04 288.70 303.76 310.38" y="0" style="font-size:25.58px;" fill="#000">obs ele</text>
<text transform="translate(0,625.85) scale(1.0532,1)" x="385.92 392.26 406.98 411.98 429.65 444.53 450.95" y="0" style="font-size:25.58px;" fill="#000">log ele</text>
<text transform="translate(0,625.85) scale(0.9425,1)" x="594.28 612.58 620.67 639.57 656.98 675.54" y="0" style="font-size:25.58px;" fill="#000">RINEX2</text>
<text transform="translate(0,625.85) scale(0.9423,1)" x="766.17 784.48 792.58 811.48 828.89 847.84" y="0" style="font-size:25.58px;" fill="#000">RINEX3</text>
<text transform="translate(0,625.85) scale(0.9466,1)" x="933.55 951.76 959.75 978.50 995.79 1014.55" y="0" style="font-size:25.58px;" fill="#000">RINEX4</text>
<text transform="translate(0,662.80) scale(1.0120,1)" x="71.29 90.24 105.32 110.32 129.94 148.22 167.22" y="0" style="font-size:25.58px;" fill="#000">GPS 2+f</text>
<text transform="translate(0,709.80) scale(1.0160,1)" x="34.68 47.56 59.56 64.56 77.05 90.98 103.42 108.42 116.16 128.68 133.68 146.85 159.02 171.19 177.57 189.72 201.88 208.04 220.57 225.57 238.62 250.74 262.89 274.98" y="0" style="font-size:20.20px;font-style:italic;" fill="#000">Thu Apr 30 12:02:54 2026</text>
<text transform="translate(0,709.80) scale(0.9450,1)" x="886.69 904.65 920.61 935.20 947.48 960.99 980.77 995.82 1011.98" y="0" style="font-size:20.20px;font-style:italic;" fill="#000">©GNSS@ROB</text>
</svg>
</body></html>
